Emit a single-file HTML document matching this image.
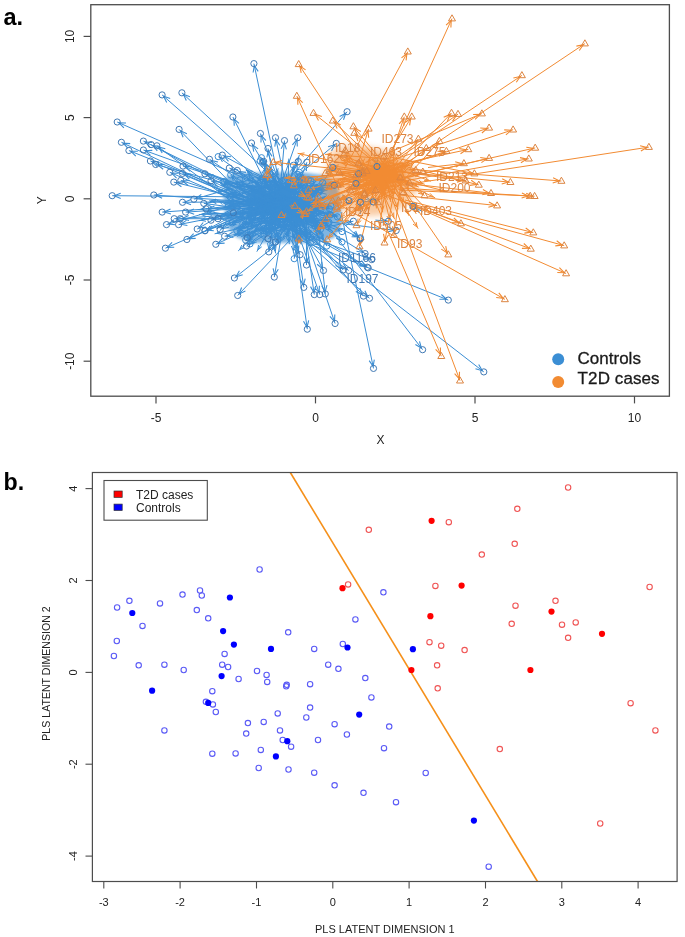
<!DOCTYPE html>
<html><head><meta charset="utf-8"><style>
html,body{margin:0;padding:0;background:#fff;}
svg{display:block;filter:blur(0.35px);font-family:"Liberation Sans",sans-serif;}
</style></head><body>
<svg width="685" height="937" viewBox="0 0 685 937">
<rect width="685" height="937" fill="#fff"/>
<clipPath id="ca"><rect x="91" y="5" width="578" height="391"/></clipPath>
<g clip-path="url(#ca)">
<filter id="bl" x="-20%" y="-20%" width="140%" height="140%"><feGaussianBlur stdDeviation="3"/></filter>
<filter id="bl2" x="-20%" y="-20%" width="140%" height="140%"><feGaussianBlur stdDeviation="1.8"/></filter>
<path d="M226 177L236 173L300 172L322 175L336 182L341 200L341 226L334 238L315 243L252 243L236 237L226 226L223 190Z" fill="#3b8ed4" opacity="0.65" filter="url(#bl2)"/>
<path d="M280.9 211.6L314.6 217.9M281.3 208.8L227.2 202.5M291.3 208.0L315.6 181.4M288.8 221.2L250.5 197.6M289.9 205.5L274.6 217.8M295.1 212.4L296.8 230.9M275.1 197.9L246.1 219.3M272.5 210.2L273.8 193.4M291.8 189.6L287.3 208.7M303.3 193.4L269.8 224.5M295.7 216.4L297.8 225.0M255.7 196.1L300.9 213.4M269.5 200.2L313.1 199.3M282.1 202.7L218.2 156.6M290.7 197.9L297.9 174.5M275.6 207.6L229.6 225.2M293.3 212.0L273.3 210.4M307.0 192.4L273.1 227.4M264.0 223.7L290.6 217.1M286.3 214.0L289.0 190.9M301.7 206.3L286.4 237.8M278.0 193.7L298.7 176.7M307.5 194.7L288.5 187.9M279.0 209.0L246.4 184.0M282.2 209.1L239.9 179.9M282.6 207.9L265.3 199.5M284.8 216.2L236.8 230.7M302.9 205.5L261.4 191.0M289.5 200.3L329.5 208.9M297.1 217.0L282.1 239.5M301.1 193.1L264.1 184.4M287.7 192.6L268.1 219.5M302.5 176.5L299.4 172.3M284.3 198.1L262.8 175.0M297.8 207.6L300.6 238.0M249.4 214.4L308.3 201.7M287.1 213.8L245.9 215.4M309.8 193.6L296.1 227.4M305.3 214.2L289.7 174.4M275.1 206.9L250.5 238.2M300.8 204.0L329.0 222.3M289.0 211.0L324.3 227.8M303.2 222.4L262.6 191.5M276.9 204.2L331.7 217.2M248.3 201.7L320.6 229.2M288.0 214.1L249.9 212.9M284.0 217.4L324.9 197.1M264.6 209.8L216.2 228.4M265.3 205.9L225.1 202.9M285.6 206.9L296.0 227.0M281.8 192.1L281.1 210.8M286.6 200.9L250.8 191.8M287.7 193.0L308.1 235.0M264.4 211.3L280.4 220.1M266.1 210.0L328.4 220.5M312.3 187.6L285.7 237.1M289.7 201.0L272.5 177.9M285.4 210.3L293.4 165.3M299.3 220.4L320.3 239.4M296.0 204.4L249.3 220.8M315.2 204.7L271.3 208.1M279.4 212.2L303.9 174.3M268.7 202.1L260.1 215.4M279.2 205.7L299.4 155.1M294.9 211.3L310.2 191.4M296.5 214.4L289.4 193.0M306.2 225.9L301.4 179.1M307.8 211.9L294.1 227.5M312.3 216.9L319.6 203.9M274.2 217.8L277.1 217.5M273.4 204.6L245.6 194.2M275.8 223.5L279.0 185.1M283.2 207.7L284.7 185.9M248.1 210.1L314.7 202.4M254.7 206.7L279.7 219.8M299.6 204.9L266.8 179.6M272.8 211.7L306.0 190.4M288.5 210.0L311.8 185.3M282.6 214.0L274.5 183.7M273.2 208.9L318.7 202.7M286.4 234.5L265.7 205.3M274.3 205.9L233.1 200.2M288.3 206.6L249.1 212.8M258.8 202.7L265.1 166.8M274.1 212.3L309.3 232.9M282.0 203.4L314.0 189.4M282.0 186.0L281.7 207.3M299.7 188.9L220.6 185.7M274.9 190.6L263.4 180.1M295.5 193.9L293.1 219.3M283.7 206.1L278.6 183.4M262.1 202.5L305.5 190.1M296.2 209.9L293.6 238.5M303.5 204.1L276.6 219.5M287.4 190.8L231.7 183.0M284.3 224.1L286.6 173.8M296.8 209.2L261.9 178.9M280.1 218.8L275.2 181.1M293.4 201.5L284.5 205.5M256.4 211.2L255.0 211.9M294.6 231.7L288.1 182.6M245.9 201.9L314.9 207.6M303.9 194.8L323.5 206.1M286.3 206.1L273.5 193.5M294.3 213.8L307.1 230.1M311.6 223.2L300.6 197.4M273.9 213.9L253.4 196.9M273.5 209.9L234.4 229.8M276.7 231.1L252.8 207.7M290.7 215.9L322.7 182.7M260.9 188.2L230.4 197.3M309.7 211.5L307.3 216.8M283.9 209.4L304.2 223.2M277.5 213.7L303.6 204.7M277.5 198.3L267.2 184.4M290.8 212.4L256.4 207.3M329.7 185.5L238.6 186.1M297.3 211.4L249.8 190.6M254.7 196.3L250.8 217.8M269.6 204.4L230.0 191.9M293.1 204.8L293.5 231.7M287.7 214.5L267.8 203.3M314.8 199.9L287.1 207.7M276.4 183.4L266.9 236.0M299.4 186.8L279.1 216.6M296.0 217.0L326.8 195.5M268.6 191.0L284.8 175.7M287.3 198.2L262.4 193.5M293.5 212.0L301.2 180.6M302.6 211.7L266.5 188.2M283.1 205.1L274.6 238.2M264.6 188.0L249.3 189.8M309.2 201.8L225.4 206.9M277.4 195.8L297.7 235.9M285.6 208.9L270.1 219.4M294.2 224.6L257.3 206.6M298.6 204.2L281.7 221.0M285.9 196.8L258.4 207.3M287.8 217.3L296.1 203.4M276.3 210.7L285.6 212.1M299.9 210.1L317.7 185.3M322.1 205.6L243.8 236.6M284.9 203.2L256.6 220.4M280.2 211.8L254.3 196.9M292.9 204.4L286.9 225.1M297.9 187.6L228.5 205.2M260.0 223.7L263.8 234.0M301.2 208.1L280.0 201.3M290.6 206.9L276.7 240.1M296.7 200.0L330.3 215.0M283.1 223.4L307.6 235.3M259.5 186.3L249.2 205.3M323.2 198.7L251.1 202.2M248.3 207.0L312.9 223.2M297.2 189.0L259.7 194.7M266.9 220.7L245.1 224.2M285.1 210.0L284.9 195.2M317.9 203.2L277.7 215.3M300.5 213.4L256.9 211.8M265.7 213.6L278.2 168.3M280.8 201.2L267.8 231.9M266.7 218.9L250.7 189.7M304.0 224.8L259.5 199.9M304.0 205.4L313.5 217.4M292.4 205.7L314.7 230.2M288.9 204.4L236.4 185.9M305.9 203.5L234.4 235.8M273.2 208.7L293.3 203.8M266.7 197.3L264.3 182.6M288.5 214.1L296.0 186.8M299.2 206.7L290.0 222.9M293.2 224.8L267.3 210.4M280.5 202.3L300.9 200.9M282.2 215.2L263.2 230.9M274.6 214.9L309.4 206.6M293.4 222.8L270.5 228.8M257.5 218.7L284.8 216.6M290.8 203.4L264.5 207.3M292.9 213.1L277.9 227.7M295.4 204.5L277.1 176.6M299.2 201.1L235.6 181.4M300.0 222.3L268.3 230.6M289.9 199.9L267.8 208.2M278.9 209.8L304.2 234.0M304.9 209.6L338.3 216.1M301.0 216.0L293.2 193.8M266.5 213.0L296.8 203.4M281.8 206.9L277.8 189.0M287.4 186.9L243.1 205.2M291.6 209.6L233.3 203.1M280.4 205.8L232.2 222.9M288.3 193.0L279.4 198.7M293.2 204.2L330.9 206.2M289.2 199.4L198.9 209.6M293.3 202.7L289.7 203.9M269.1 220.9L323.4 191.7M288.6 200.4L326.0 187.2M283.5 219.0L241.1 236.7M270.5 184.9L310.9 180.8M262.7 203.0L320.8 210.8M256.0 195.0L334.2 215.8M262.5 218.1L333.9 212.3M267.6 220.4L242.8 223.6M313.3 212.1L294.6 239.9M264.7 197.7L239.7 214.9M267.5 211.4L294.5 217.6M283.1 204.1L262.8 180.2M277.9 212.1L289.0 186.9M272.1 197.2L327.9 189.6M289.2 210.0L320.6 226.2M274.8 211.0L295.2 211.2M271.4 218.8L328.0 222.9M285.3 229.8L282.5 200.6M285.4 209.8L319.4 209.0M293.3 203.8L291.1 207.5M266.5 190.3L257.7 193.4M317.0 212.9L278.2 204.8M299.8 190.9L306.1 203.8M286.1 211.1L227.3 195.8M284.9 189.0L273.0 191.7M268.8 202.1L254.1 204.7M259.0 183.8L252.2 189.1M283.5 179.6L248.4 243.5M279.4 213.2L245.5 184.5M262.4 179.7L317.0 220.4M295.7 196.8L254.2 199.7M290.3 220.9L325.0 182.8M292.5 206.9L269.1 216.2M289.6 206.6L246.0 184.0M284.5 202.0L263.7 228.6M299.3 185.0L320.2 235.2M292.2 204.2L317.9 228.2M265.1 190.7L255.2 179.8M307.0 216.7L258.7 201.8M297.2 207.1L303.2 198.0M267.2 231.6L318.4 215.0M301.2 208.2L309.6 196.6M279.4 192.9L319.6 179.2M289.2 199.9L245.6 224.8M286.5 205.9L278.0 227.2M292.5 217.8L316.2 190.7M297.3 202.9L301.3 206.9M302.5 216.0L311.2 220.4M290.2 190.9L267.9 199.8M290.2 203.0L300.5 209.1M282.1 229.6L265.5 233.1M286.8 218.2L307.5 224.2M276.0 197.9L240.4 230.3M271.2 190.6L272.1 225.6M277.7 203.3L322.1 189.2M289.9 214.7L289.3 197.4M291.7 212.9L281.5 183.9M280.1 212.3L277.0 197.8M292.2 204.8L305.1 202.6M292.6 220.8L246.1 199.4M300.8 208.3L265.9 184.9M273.0 196.9L290.6 200.5M283.0 182.0L287.3 223.9M274.9 209.8L319.3 183.4M275.3 185.5L256.8 189.9M276.3 220.3L270.0 226.2M279.8 190.9L270.4 204.0M273.1 198.2L297.4 201.6M269.3 190.2L277.9 239.3M304.5 209.3L310.6 237.0M277.7 205.4L283.6 221.8M262.2 204.8L246.4 204.2M295.4 203.6L236.6 228.2M318.2 228.1L229.3 191.7M282.9 207.1L270.1 220.5M277.5 212.9L306.0 236.9M273.9 204.7L261.8 215.7M304.1 219.8L255.1 190.2M274.4 203.0L251.4 229.8M297.3 187.6L256.0 210.3M306.4 220.7L318.3 191.2M276.3 211.9L303.8 192.1M285.4 215.3L271.0 216.3M276.8 197.2L285.7 201.6M301.4 184.9L317.4 236.1M283.1 204.6L329.6 217.6M285.0 211.1L249.2 225.8M279.8 211.2L284.0 195.3M302.0 196.5L245.8 170.1M292.2 185.6L300.6 209.1M284.1 194.2L255.4 201.7M285.9 212.0L229.5 204.8M296.5 216.1L283.4 231.7M315.6 206.9L286.0 218.2M293.4 197.0L294.3 216.3M306.6 208.7L305.0 199.5M304.0 204.5L303.4 215.5M268.2 224.6L276.1 208.7M286.4 198.5L270.3 210.7M291.2 197.9L247.8 220.5M282.4 219.0L247.0 177.7M278.2 214.4L288.7 216.2M286.0 202.9L309.2 190.5M297.9 208.9L244.3 235.7M266.8 195.8L316.1 192.2M268.3 195.7L239.2 189.8M290.5 221.9L308.4 179.9M286.8 208.7L319.1 192.0M264.8 221.0L256.1 201.1M279.6 216.9L271.2 216.6M289.9 204.5L313.8 212.1M300.2 200.1L266.4 213.3M326.6 194.2L269.2 179.9M278.2 200.0L299.6 181.3M291.7 205.0L283.2 209.7M282.7 198.0L282.9 212.9M288.8 188.8L277.3 198.7M267.6 193.5L327.4 190.3M309.8 202.1L224.6 217.2M287.7 201.9L304.7 184.3M296.9 196.3L264.2 212.1M262.7 212.2L312.3 197.7M271.2 193.8L266.2 226.5M311.4 199.5L255.7 177.1M309.6 203.2L257.5 230.7M314.9 203.1L257.6 202.1M296.9 199.1L224.4 181.6M289.6 197.6L252.5 201.7M259.8 195.5L337.4 216.9M297.2 185.5L253.7 230.9M293.5 190.3L271.3 213.9M258.0 199.5L307.0 236.4M287.2 221.0L257.7 209.9M284.2 224.3L265.7 209.1M294.6 188.3L287.9 234.0M276.2 202.2L209.2 200.8M280.4 196.0L301.2 244.4M276.0 205.3L216.0 189.8M266.1 191.7L236.3 234.6M274.1 217.0L319.9 246.0M283.0 225.1L206.5 211.0M288.2 185.8L205.1 230.7M288.1 212.6L277.5 244.6M254.7 198.2L330.3 226.0M289.9 203.9L199.1 220.7M314.5 225.0L223.2 181.8M259.6 184.7L275.7 253.4M276.1 208.1L246.0 168.9M284.5 216.2L289.4 244.1M290.4 205.7L260.2 160.8M307.3 199.9L326.7 246.1M285.4 200.8L256.8 251.7M298.0 214.9L250.0 243.9M300.0 219.0L310.4 242.7M320.7 211.7L266.1 167.6M307.4 188.9L294.2 258.7M315.2 220.5L323.5 241.2M269.1 223.3L230.7 174.9M292.1 212.1L205.3 213.7M304.9 223.6L262.6 162.0M292.1 213.3L271.9 250.6M271.0 206.5L247.4 241.3M316.8 214.2L342.0 242.0M272.0 207.3L247.8 171.7M252.7 231.4L275.9 247.3M289.4 203.7L332.6 231.1M287.9 205.7L269.3 165.6M315.2 206.3L245.7 240.1M252.6 215.6L217.0 200.3M291.5 211.3L293.4 252.6M287.1 210.2L288.8 158.6M272.2 206.2L342.0 231.6M277.3 186.6L299.2 252.4M308.8 213.2L224.1 186.9M312.4 212.8L214.6 233.8M297.3 196.4L238.2 250.9M284.0 213.0L199.1 214.5M270.2 216.7L237.2 236.4M276.9 205.5L209.9 201.5M294.3 198.8L261.5 157.7M308.4 214.8L312.6 217.5L307.7 218.5M233.6 205.1L229.2 202.7L234.0 201.4M309.8 185.1L314.3 182.9L312.5 187.6M255.2 202.7L252.2 198.7L257.2 199.5M280.9 215.1L276.2 216.6L278.6 212.2M298.1 224.2L296.6 228.9L294.4 224.5M252.5 216.8L247.7 218.1L250.3 213.8M271.4 199.9L273.6 195.4L275.1 200.1M290.7 202.7L287.8 206.8L287.0 201.8M276.0 221.3L271.3 223.1L273.4 218.6M298.1 218.1L297.4 223.0L294.4 219.0M295.4 209.3L299.0 212.7L294.0 212.8M306.4 197.5L311.1 199.3L306.5 201.3M222.5 162.0L219.8 157.8L224.7 159.0M294.2 180.3L297.3 176.4L297.7 181.4M236.5 224.6L231.5 224.5L235.1 221.1M279.8 212.8L275.3 210.5L280.1 209.0M279.1 223.9L274.5 226.0L276.4 221.3M283.7 216.9L288.7 217.6L284.6 220.5M286.4 197.2L288.8 192.9L290.1 197.7M291.0 232.7L287.3 236.0L287.6 231.0M292.4 179.4L297.2 177.9L294.8 182.3M294.1 191.9L290.3 188.6L295.3 188.4M250.5 189.6L248.0 185.3L252.8 186.6M244.3 185.2L241.6 181.0L246.5 182.1M270.5 204.1L267.1 200.4L272.1 200.7M243.7 230.6L238.7 230.1L242.6 227.0M267.0 195.0L263.3 191.7L268.3 191.4M323.4 205.7L327.6 208.5L322.6 209.3M287.4 235.0L283.3 237.9L284.3 233.0M270.1 187.7L266.0 184.8L271.0 184.1M273.5 215.2L269.3 217.8L270.5 213.0M301.8 178.8L300.6 173.9L304.8 176.6M266.0 181.1L264.2 176.4L268.7 178.6M301.8 231.3L300.4 236.1L298.1 231.6M301.4 201.3L306.3 202.1L302.2 204.9M252.6 217.0L247.9 215.4L252.4 213.3M300.4 221.9L296.9 225.5L296.9 220.5M290.4 181.2L290.5 176.2L293.9 179.9M256.1 234.1L251.7 236.6L253.1 231.8M324.5 217.1L327.4 221.2L322.5 220.3M319.2 223.3L322.5 227.0L317.5 226.7M266.8 197.0L264.2 192.7L269.1 194.0M325.7 213.8L329.8 216.7L324.9 217.5M315.1 225.1L318.8 228.5L313.8 228.6M256.5 215.0L251.9 212.9L256.6 211.2M318.1 198.3L323.1 197.9L319.8 201.7M223.1 227.7L218.1 227.7L221.7 224.2M231.6 205.3L227.1 203.1L231.8 201.5M294.6 220.3L295.1 225.2L291.3 222.0M283.2 204.2L281.1 208.8L279.5 204.1M256.8 195.3L252.8 192.3L257.7 191.6M306.9 228.3L307.2 233.3L303.5 229.9M275.5 215.3L278.6 219.1L273.6 218.5M322.2 217.6L326.5 220.2L321.6 221.3M290.5 232.2L286.6 235.4L287.2 230.4M275.0 184.4L273.7 179.5L278.0 182.1M290.4 171.5L293.1 167.3L294.1 172.2M316.6 233.6L318.8 238.1L314.1 236.3M256.2 220.4L251.2 220.1L255.0 216.8M278.1 209.4L273.3 207.9L277.8 205.7M298.7 178.9L302.8 176.0L301.8 180.9M265.3 210.9L261.2 213.7L262.1 208.8M295.2 160.6L298.7 157.0L298.7 162.0M304.7 195.5L309.0 193.0L307.7 197.8M289.7 199.8L290.0 194.9L293.3 198.7M300.3 185.9L301.6 181.1L304.0 185.5M299.9 223.8L295.4 226.0L297.1 221.3M314.7 208.7L318.6 205.6L318.0 210.6M270.3 216.4L275.1 217.7L270.8 220.2M251.2 198.3L247.5 194.9L252.5 194.8M276.6 191.6L278.8 187.1L280.3 191.9M282.4 192.4L284.6 187.9L286.1 192.6M307.9 201.3L312.7 202.6L308.3 205.0M274.7 215.0L278.0 218.8L273.0 218.4M270.9 185.1L268.4 180.8L273.2 182.2M299.4 192.4L304.3 191.5L301.4 195.5M305.8 188.9L310.4 186.8L308.6 191.5M274.4 190.6L275.0 185.6L278.0 189.6M311.9 201.7L316.7 203.0L312.4 205.4M268.0 211.8L266.9 206.9L271.1 209.6M239.4 202.9L235.0 200.4L239.9 199.2M255.9 213.6L251.1 212.5L255.3 209.9M262.1 173.0L264.7 168.8L265.8 173.7M304.5 227.9L307.6 231.9L302.7 231.2M307.2 190.3L312.2 190.2L308.7 193.7M283.7 200.7L281.7 205.3L279.9 200.6M227.1 187.8L222.6 185.8L227.3 184.1M267.1 186.0L264.9 181.5L269.6 183.2M295.6 212.9L293.3 217.3L291.9 212.5M278.2 190.2L279.0 185.3L281.9 189.4M298.6 190.2L303.6 190.7L299.6 193.8M296.1 232.1L293.8 236.5L292.3 231.7M283.3 217.8L278.4 218.5L281.5 214.6M238.0 185.8L233.7 183.3L238.5 182.1M284.4 180.4L286.5 175.8L288.2 180.6M265.7 184.7L263.4 180.3L268.2 181.9M274.2 187.9L275.5 183.0L277.9 187.4M291.3 204.5L286.4 204.7L289.8 201.1M261.7 210.5L256.7 211.0L259.9 207.2M287.1 189.5L288.4 184.6L290.9 189.0M308.4 205.2L312.9 207.4L308.1 208.9M318.7 201.1L321.8 205.1L316.9 204.4M276.9 199.5L274.9 194.9L279.5 196.8M304.5 223.7L305.8 228.5L301.5 226.0M301.5 204.2L301.4 199.2L304.9 202.8M257.3 202.6L254.9 198.2L259.7 199.7M241.2 228.4L236.2 228.8L239.5 225.1M256.2 213.7L254.2 209.1L258.8 211.0M316.7 186.2L321.3 184.1L319.4 188.8M237.3 197.2L232.3 196.7L236.2 193.6M311.7 211.6L308.1 215.0L308.3 210.0M299.8 217.9L302.6 222.1L297.7 221.0M296.7 205.1L301.7 205.3L297.9 208.6M269.6 190.8L268.4 186.0L272.6 188.6M262.7 210.1L258.4 207.6L263.3 206.4M245.3 187.9L240.6 186.1L245.3 184.2M255.1 194.9L251.6 191.4L256.6 191.5M253.8 211.6L251.1 215.8L250.1 210.9M235.7 195.7L231.9 192.5L236.8 192.1M295.3 225.0L293.5 229.7L291.5 225.1M272.6 208.2L269.5 204.3L274.5 204.9M294.0 207.7L289.0 207.2L293.0 204.1M269.9 229.8L267.2 234.1L266.2 229.2M284.4 212.2L280.3 215.0L281.3 210.1M320.3 197.8L325.1 196.6L322.4 200.8M278.7 178.9L283.3 177.1L281.3 181.6M268.6 196.6L264.3 193.9L269.2 192.9M297.8 186.6L300.8 182.6L301.5 187.5M271.0 193.4L268.1 189.3L273.0 190.3M278.1 232.2L275.1 236.3L274.4 231.3M256.1 190.9L251.3 189.6L255.7 187.2M232.2 208.4L227.4 206.8L232.0 204.6M296.4 229.1L296.8 234.1L293.1 230.8M276.6 217.2L271.8 218.3L274.5 214.1M262.5 211.2L259.1 207.5L264.1 207.8M287.7 217.7L283.1 219.6L285.1 215.0M265.3 206.7L260.3 206.6L263.9 203.2M291.1 208.2L295.0 205.2L294.3 210.1M279.3 209.3L283.6 211.8L278.7 213.0M312.3 189.6L316.5 186.9L315.3 191.8M250.6 235.9L245.6 235.9L249.3 232.5M263.3 218.5L258.3 219.3L261.3 215.3M259.1 201.8L256.1 197.9L261.0 198.6M290.6 219.3L287.5 223.2L287.0 218.2M235.4 205.4L230.5 204.7L234.5 201.7M263.2 227.1L263.1 232.1L259.7 228.4M285.7 205.1L281.9 201.9L286.9 201.5M281.0 234.7L277.4 238.3L277.5 233.3M325.0 210.5L328.4 214.1L323.4 214.0M302.5 230.7L305.8 234.4L300.8 234.1M254.0 200.4L250.1 203.6L250.7 198.6M257.8 203.8L253.1 202.1L257.7 200.0M306.9 219.8L310.9 222.7L306.0 223.4M266.6 195.6L261.7 194.4L266.0 191.9M251.9 225.0L247.1 223.9L251.3 221.3M283.1 201.8L284.9 197.2L286.9 201.8M284.6 215.2L279.7 214.8L283.6 211.6M263.5 213.9L258.9 211.9L263.6 210.1M274.6 174.2L277.7 170.2L278.3 175.1M272.1 226.5L268.5 230.1L268.6 225.1M252.3 196.4L251.7 191.4L255.5 194.6M264.4 204.8L261.3 200.9L266.3 201.5M310.9 211.1L312.3 215.9L308.0 213.4M311.6 224.0L313.4 228.7L308.9 226.5M242.0 189.9L238.2 186.6L243.2 186.3M241.2 234.8L236.2 235.0L239.7 231.4M286.4 203.6L291.3 204.3L287.2 207.2M263.5 189.5L264.6 184.6L267.2 188.9M292.4 192.7L295.5 188.8L296.0 193.7M294.9 218.1L291.0 221.1L291.6 216.2M272.2 215.3L269.0 211.4L274.0 212.0M294.1 199.5L298.9 201.0L294.4 203.2M269.5 228.1L264.7 229.6L267.1 225.2M302.5 206.3L307.5 207.1L303.4 210.0M277.4 228.9L272.4 228.3L276.4 225.3M278.0 215.2L282.8 216.7L278.3 218.9M271.4 208.2L266.5 207.0L270.8 204.5M284.0 224.4L279.4 226.3L281.4 221.8M279.1 183.2L278.2 178.3L282.3 181.1M241.4 185.2L237.5 182.0L242.5 181.6M275.2 230.7L270.2 230.0L274.3 227.1M274.6 207.6L269.6 207.5L273.3 204.1M300.7 228.1L302.7 232.6L298.1 230.8M332.2 213.0L336.4 215.7L331.5 216.6M293.6 200.7L293.9 195.7L297.2 199.5M289.9 203.6L294.9 204.0L291.0 207.2M277.4 195.9L278.3 191.0L281.1 195.1M250.0 204.4L245.0 204.4L248.5 200.9M239.7 205.7L235.3 203.3L240.1 201.9M239.1 222.4L234.1 222.2L237.8 218.9M286.0 196.7L281.1 197.6L284.0 193.5M324.4 204.0L328.9 206.1L324.2 207.7M205.7 210.7L200.9 209.3L205.3 207.0M296.6 203.6L291.6 203.3L295.4 200.0M316.7 193.2L321.7 192.6L318.5 196.5M319.1 187.6L324.1 187.8L320.4 191.1M247.9 235.9L242.9 235.9L246.5 232.4M304.1 179.6L308.9 181.0L304.5 183.3M314.4 208.0L318.8 210.5L313.9 211.7M328.3 212.3L332.3 215.3L327.3 215.9M327.2 210.9L331.9 212.4L327.5 214.7M249.6 224.6L244.8 223.3L249.1 220.9M299.8 235.4L295.7 238.3L296.7 233.4M246.3 212.7L241.4 213.8L244.1 209.6M288.5 214.3L292.6 217.1L287.6 217.9M265.6 186.5L264.1 181.8L268.5 184.1M284.6 192.2L288.2 188.7L288.0 193.7M321.1 188.6L325.9 189.8L321.6 192.3M315.5 221.5L318.8 225.3L313.8 224.8M288.6 209.3L293.2 211.2L288.6 213.0M321.5 220.5L326.0 222.7L321.2 224.3M281.3 207.4L282.7 202.6L285.0 207.0M312.7 207.3L317.4 209.0L312.8 211.0M296.1 202.7L292.1 205.7L292.8 200.8M264.5 193.0L259.5 192.8L263.3 189.5M284.3 208.0L280.2 205.2L285.1 204.3M304.8 197.0L305.2 202.0L301.5 198.6M233.3 199.3L229.3 196.3L234.2 195.7M279.9 192.1L275.0 191.3L279.1 188.4M261.0 205.4L256.1 204.4L260.3 201.7M258.6 186.5L253.7 187.8L256.3 183.5M253.2 238.6L249.3 241.7L249.9 236.8M249.4 190.2L247.0 185.8L251.8 187.4M312.9 215.0L315.4 219.2L310.6 218.0M260.9 201.1L256.2 199.5L260.7 197.3M319.2 186.5L323.7 184.3L321.9 189.0M275.9 215.5L270.9 215.4L274.5 212.0M251.1 188.7L247.8 184.9L252.8 185.4M269.3 224.5L264.9 227.0L266.3 222.2M319.4 228.3L319.4 233.3L315.9 229.8M314.4 222.3L316.5 226.9L311.8 225.1M258.3 186.0L256.5 181.3L261.0 183.4M264.5 205.6L260.7 202.4L265.6 202.0M298.0 202.6L302.1 199.7L301.1 204.6M311.5 215.3L316.5 215.7L312.6 218.9M304.2 200.9L308.4 198.2L307.2 203.1M312.7 179.6L317.7 179.8L313.9 183.1M252.3 223.2L247.4 223.8L250.5 219.9M282.2 221.7L278.8 225.3L278.7 220.3M310.4 194.5L314.8 192.2L313.2 196.9M297.9 200.9L299.9 205.5L295.3 203.6M306.2 215.7L309.5 219.5L304.5 219.1M274.8 199.1L269.8 199.1L273.4 195.6M295.7 204.1L298.8 208.1L293.8 207.3M272.4 233.6L267.4 232.7L271.6 229.9M301.7 220.5L305.6 223.6L300.6 224.1M246.6 227.2L241.9 229.0L244.0 224.5M273.8 218.9L272.1 223.6L270.1 219.0M315.2 189.4L320.2 189.8L316.4 193.0M287.6 204.1L289.4 199.4L291.4 203.9M281.9 190.8L282.2 185.8L285.5 189.6M276.6 204.7L277.4 199.8L280.2 203.9M298.3 201.9L303.2 202.9L298.9 205.5M251.4 203.9L247.9 200.2L252.9 200.5M270.3 190.2L267.5 186.0L272.4 187.1M284.5 197.4L288.7 200.1L283.7 201.0M288.5 217.1L287.1 221.9L284.7 217.5M312.6 185.2L317.5 184.4L314.5 188.4M263.7 190.2L258.8 189.5L262.9 186.6M276.1 223.0L271.5 224.8L273.6 220.3M275.8 199.7L271.6 202.3L272.8 197.5M291.1 198.8L295.4 201.3L290.6 202.5M278.6 232.4L277.5 237.3L274.9 233.1M311.0 230.1L310.1 235.0L307.3 230.9M283.1 214.9L282.9 219.9L279.6 216.2M253.0 206.3L248.4 204.3L253.1 202.6M243.5 227.4L238.5 227.4L242.0 223.9M234.8 195.9L231.2 192.4L236.2 192.4M276.0 217.0L271.5 219.0L273.3 214.4M302.2 231.2L304.5 235.6L299.8 234.1M268.0 212.6L263.3 214.3L265.5 209.8M259.8 195.2L256.8 191.2L261.7 192.0M257.2 225.9L252.7 228.2L254.3 223.5M262.7 208.7L257.7 209.3L260.9 205.5M314.1 196.6L317.5 193.0L317.5 198.0M297.4 194.5L302.2 193.3L299.5 197.5M277.7 217.7L273.0 216.2L277.5 214.0M280.6 197.0L283.9 200.7L278.9 200.3M317.2 229.2L316.8 234.2L313.6 230.4M323.7 214.0L327.7 217.1L322.7 217.6M256.0 225.0L251.0 225.0L254.6 221.5M280.5 201.2L283.5 197.2L284.1 202.2M251.0 174.6L247.6 170.9L252.6 171.2M300.1 202.2L299.9 207.2L296.6 203.5M262.3 201.8L257.3 201.2L261.4 198.2M235.9 207.5L231.5 205.0L236.4 203.7M289.1 227.8L284.7 230.1L286.2 225.4M292.9 217.6L287.9 217.5L291.5 214.1M295.9 209.5L294.2 214.3L292.1 209.7M304.3 206.4L305.4 201.5L308.0 205.8M305.6 209.0L303.5 213.5L301.9 208.8M271.5 213.8L275.2 210.5L274.8 215.5M276.7 208.2L271.9 209.5L274.5 205.2M254.6 219.1L249.6 219.5L252.9 215.7M249.9 184.0L248.3 179.3L252.7 181.6M282.5 213.2L286.7 215.8L281.8 216.9M302.5 191.9L307.5 191.4L304.3 195.2M251.0 234.4L246.1 234.8L249.4 231.0M309.4 190.8L314.1 192.4L309.7 194.6M245.4 192.9L241.2 190.2L246.1 189.3M304.1 185.3L307.6 181.7L307.5 186.7M312.3 193.4L317.3 192.9L314.1 196.7M257.1 208.0L256.9 203.0L260.5 206.5M277.8 218.7L273.2 216.7L277.9 215.0M308.0 208.3L311.9 211.5L306.9 211.9M273.2 212.6L268.2 212.5L271.9 209.1M275.2 183.4L271.1 180.4L276.1 179.7M293.4 184.2L298.1 182.6L295.8 187.1M289.9 208.2L284.9 208.8L288.1 204.9M284.7 206.3L282.9 210.9L281.0 206.3M283.6 195.8L278.8 197.4L281.1 192.9M320.7 188.8L325.4 190.4L320.9 192.5M231.5 217.9L226.6 216.9L230.9 214.2M298.7 187.8L303.3 185.7L301.4 190.4M271.0 210.9L266.0 211.2L269.3 207.5M305.4 197.8L310.4 198.3L306.5 201.4M269.0 220.2L266.5 224.5L265.3 219.6M261.2 181.3L257.6 177.9L262.6 177.9M264.2 229.3L259.2 229.8L262.5 226.0M264.2 204.1L259.6 202.2L264.2 200.4M230.4 185.0L226.3 182.1L231.2 181.3M259.3 202.9L254.4 201.5L258.8 199.1M331.5 213.4L335.5 216.4L330.5 217.0M259.6 227.4L255.1 229.4L256.9 224.8M277.2 210.4L272.7 212.5L274.5 207.8M302.8 230.9L305.4 235.2L300.6 233.9M263.3 214.0L259.6 210.6L264.6 210.5M269.7 214.8L267.3 210.4L272.0 211.9M290.7 227.7L288.2 232.0L287.0 227.2M215.8 202.9L211.2 200.9L215.9 199.1M300.3 237.6L300.4 242.6L296.9 239.1M222.0 193.3L218.0 190.3L222.9 189.6M241.6 230.2L237.4 232.9L238.5 228.1M315.3 240.9L318.2 244.9L313.3 244.0M212.7 214.0L208.4 211.4L213.3 210.3M211.8 229.2L206.8 229.7L210.0 225.9M281.4 238.9L278.1 242.7L277.8 237.7M324.7 221.9L328.4 225.3L323.4 225.5M206.0 221.3L201.1 220.3L205.3 217.6M228.4 186.3L225.0 182.6L230.0 182.9M276.0 246.5L275.3 251.4L272.4 247.3M248.6 175.3L247.2 170.5L251.5 173.0M290.1 237.2L289.1 242.1L286.4 237.8M262.3 167.3L261.3 162.4L265.5 165.2M325.9 239.3L325.9 244.3L322.4 240.7M261.7 246.8L257.8 249.9L258.5 245.0M256.7 242.1L251.7 242.9L254.7 238.9M309.5 235.9L309.6 240.9L306.1 237.4M270.1 173.2L267.7 168.9L272.4 170.3M297.2 252.5L294.5 256.7L293.6 251.8M322.8 234.3L322.7 239.3L319.3 235.7M233.3 181.2L231.9 176.4L236.3 178.9M212.0 215.4L207.3 213.6L211.9 211.7M264.8 168.5L263.8 163.6L267.9 166.4M276.7 245.7L272.9 248.9L273.4 243.9M252.7 236.9L248.5 239.7L249.6 234.8M338.9 235.9L340.6 240.5L336.1 238.4M250.0 178.2L248.9 173.4L253.1 176.1M271.5 242.0L274.3 246.2L269.4 245.1M328.0 225.9L330.9 230.0L326.0 229.1M270.4 172.4L270.2 167.4L273.8 170.8M252.5 238.9L247.5 239.2L250.8 235.5M222.4 204.7L218.9 201.1L223.9 201.2M295.0 245.9L293.3 250.6L291.3 246.0M286.7 165.1L288.7 160.6L290.5 165.2M336.4 227.6L340.1 230.9L335.1 231.1M298.9 245.5L298.5 250.5L295.3 246.7M229.9 190.7L226.0 187.5L231.0 187.1M221.5 234.2L216.6 233.3L220.7 230.5M244.3 247.8L239.7 249.5L241.8 245.0M205.8 216.3L201.1 214.5L205.7 212.6M243.9 234.6L238.9 235.4L241.9 231.4M216.4 203.7L211.9 201.6L216.6 200.0M264.2 164.0L262.7 159.2L267.1 161.7" fill="none" stroke="#3b8ed4" stroke-width="1"/>
<path d="M303.8 219.4L162.1 94.9M309.0 210.6L181.9 92.8M289.3 198.0L117.2 122.0M244.5 197.6L179.1 129.4M272.0 195.5L232.9 117.0M283.0 200.0L253.9 63.6M274.7 214.8L121.4 142.3M289.1 215.0L128.9 150.5M301.4 219.0L143.4 141.1M279.3 198.9L143.4 150.0M286.0 219.2L151.1 144.6M249.7 214.7L156.9 145.8M277.0 213.5L150.4 161.0M291.6 202.0L155.7 164.5M271.7 202.2L209.5 159.3M293.1 193.3L222.3 155.1M285.6 199.3L251.5 143.0M274.2 193.1L229.3 168.0M258.5 210.5L169.8 172.3M288.9 201.3L183.0 166.1M281.3 216.1L182.5 173.4M286.5 209.7L173.8 182.1M283.0 213.2L180.8 180.4M279.8 194.6L237.3 170.5M295.7 212.4L204.9 173.8M270.1 208.0L211.0 180.8M255.0 197.0L112.2 195.7M334.7 208.3L153.8 195.0M285.0 201.4L182.5 202.3M275.8 175.8L193.9 199.2M277.9 203.9L162.2 212.1M268.0 206.8L185.6 212.1M292.4 218.8L174.2 218.7M320.9 207.3L180.3 218.7M271.2 193.8L166.5 224.6M306.4 199.7L178.6 224.6M284.9 214.3L203.8 203.4M287.4 208.0L206.0 208.8M289.7 185.2L211.0 220.2M282.1 212.8L218.0 218.7M265.0 189.8L197.2 229.0M293.7 203.0L204.9 230.7M291.5 185.8L220.2 229.6M284.3 196.2L186.9 239.5M296.9 224.8L224.6 236.2M278.5 215.5L215.8 244.3M270.4 202.7L165.4 248.2M290.8 198.9L233.3 212.8M285.0 238.0L234.4 278.0M290.0 240.0L237.7 295.5M281.0 238.0L274.3 277.1M302.6 201.6L246.5 246.0M275.6 206.0L268.8 251.9M278.5 219.8L300.1 254.7M306.4 214.1L306.5 265.0M293.9 216.2L323.5 270.5M291.8 205.1L303.8 287.4M301.7 208.9L314.3 294.6M294.3 222.4L319.8 294.6M315.7 206.4L325.3 293.9M294.0 235.0L307.3 329.2M305.0 235.0L335.1 323.5M274.9 194.8L363.4 296.1M272.2 210.8L369.5 298.3M341.0 212.0L373.5 368.4M300.9 184.9L360.1 238.8M291.9 213.9L343.2 270.0M265.7 211.0L348.7 270.5M278.9 211.9L367.3 267.2M297.2 211.0L365.1 253.6M243.7 213.2L371.7 259.6M311.9 194.0L275.4 242.0M325.4 201.5L268.1 238.8M263.7 192.3L247.3 237.7M285.0 234.0L448.3 300.1M331.0 230.0L422.6 349.7M275.0 210.0L483.8 371.9M262.1 207.9L368.2 267.9M280.5 215.6L396.2 230.5M287.9 204.3L260.4 133.5M294.0 221.4L275.5 137.7M278.6 207.5L284.5 140.6M276.8 197.0L297.7 137.7M270.5 200.5L347.1 111.7M264.7 203.3L336.3 143.4M278.7 209.3L268.0 148.5M299.2 226.9L263.6 161.3M277.5 204.4L298.3 161.6M292.9 199.6L306.9 162.2M301.3 213.6L332.8 167.4M360.3 214.1L360.4 202.2M365.0 199.0L373.2 201.9M342.4 197.5L349.0 200.7M375.4 220.1L388.4 221.2M422.5 211.6L413.0 206.3M300.4 211.3L360.4 237.8M364.2 174.0L356.0 183.5M279.1 188.0L334.2 185.3M321.8 228.2L353.4 221.2M375.7 159.4L377.0 166.5M363.8 164.3L358.6 173.7" fill="none" stroke="#3b8ed4" stroke-width="1.0"/>
<path d="M166.7 102.5L163.6 96.2L170.2 98.5M186.3 100.5L183.4 94.2L189.9 96.7M123.9 127.8L119.0 122.8L126.0 123.0M183.1 137.3L180.5 130.8L186.9 133.7M234.3 125.8L233.8 118.8L239.0 123.4M253.1 72.5L254.3 65.6L258.2 71.4M128.0 148.3L123.2 143.2L130.2 143.6M135.8 156.1L130.8 151.2L137.8 151.2M149.9 147.2L145.2 142.0L152.2 142.5M150.5 155.3L145.3 150.7L152.3 150.4M157.3 151.0L152.9 145.6L159.8 146.4M162.2 153.0L158.5 147.0L165.3 148.8M157.2 166.7L152.2 161.8L159.2 161.8M163.2 169.3L157.6 165.0L164.6 164.2M215.0 166.3L211.1 160.4L218.0 162.0M228.5 161.4L224.1 156.0L231.0 156.8M253.7 151.6L252.5 144.7L258.1 148.9M235.4 174.4L231.0 169.0L238.0 169.9M176.6 178.1L171.6 173.1L178.6 173.3M190.2 171.3L184.9 166.7L191.9 166.3M189.3 179.2L184.3 174.2L191.3 174.4M181.4 186.7L175.7 182.6L182.7 181.6M188.1 185.5L182.7 181.0L189.7 180.5M243.4 177.0L239.0 171.5L246.0 172.4M211.7 179.5L206.7 174.6L213.7 174.7M217.6 186.7L212.8 181.6L219.8 182.0M120.7 198.4L114.2 195.7L120.7 193.2M162.1 198.2L155.8 195.1L162.5 193.0M191.0 204.8L184.5 202.3L191.0 199.6M202.8 199.4L195.8 198.7L201.3 194.4M170.9 214.1L164.2 212.0L170.5 208.9M194.2 214.2L187.6 212.0L193.9 208.9M182.7 221.3L176.2 218.7L182.7 216.1M189.0 220.6L182.3 218.5L188.6 215.4M175.4 224.7L168.4 224.0L173.9 219.7M187.4 225.5L180.6 224.2L186.4 220.4M211.9 207.1L205.8 203.7L212.6 201.9M214.5 211.3L208.0 208.8L214.5 206.1M219.8 219.1L212.8 219.4L217.7 214.4M226.7 220.5L220.0 218.5L226.2 215.3M205.9 227.0L198.9 228.0L203.2 222.5M213.8 230.7L206.8 230.1L212.2 225.7M228.8 227.4L221.9 228.6L226.1 222.9M195.7 238.4L188.7 238.7L193.6 233.7M233.4 237.5L226.6 235.9L232.6 232.3M224.6 243.1L217.6 243.5L222.4 238.4M174.2 247.2L167.2 247.4L172.1 242.4M242.2 213.4L235.2 212.3L240.9 208.3M242.7 274.8L236.0 276.8L239.4 270.7M245.4 291.1L239.1 294.0L241.6 287.5M278.3 269.2L274.6 275.1L273.1 268.3M254.8 242.8L248.1 244.8L251.5 238.7M272.6 243.9L269.1 249.9L267.5 243.1M297.9 246.1L299.0 253.0L293.4 248.9M309.1 256.5L306.5 263.0L303.9 256.5M321.7 261.8L322.5 268.7L317.1 264.3M305.2 278.6L303.5 285.4L300.0 279.4M315.7 285.8L314.0 292.6L310.5 286.6M319.4 285.7L319.1 292.7L314.5 287.5M327.0 285.2L325.1 291.9L321.8 285.7M308.7 320.4L307.0 327.2L303.5 321.2M334.8 314.6L334.5 321.6L329.9 316.3M359.8 288.0L362.1 294.6L355.8 291.4M364.9 290.7L368.0 297.0L361.4 294.6M374.3 359.6L373.1 366.4L369.2 360.6M355.6 231.1L358.6 237.5L352.1 235.0M339.4 262.0L341.8 268.5L335.5 265.5M343.3 263.4L347.1 269.3L340.3 267.7M361.5 260.5L365.6 266.1L358.7 264.9M359.3 246.9L363.4 252.5L356.5 251.3M364.6 254.2L369.8 258.9L362.8 259.2M282.6 236.8L276.6 240.4L278.5 233.7M276.6 236.4L269.8 237.7L273.8 232.0M252.6 230.6L248.0 235.8L247.7 228.8M441.4 294.5L446.4 299.3L439.4 299.3M419.5 341.4L421.4 348.1L415.4 344.6M478.7 364.6L482.2 370.7L475.5 368.8M362.1 261.4L366.5 266.9L359.5 266.0M388.1 226.8L394.2 230.2L387.4 232.0M261.0 142.4L261.1 135.4L265.9 140.5M274.8 146.6L275.9 139.7L279.9 145.4M281.1 148.8L284.3 142.6L286.4 149.3M292.4 144.8L297.0 139.6L297.3 146.6M339.6 116.4L345.8 113.2L343.5 119.8M328.1 146.8L334.8 144.7L331.5 150.9M266.9 157.3L268.3 150.5L272.1 156.4M265.3 170.0L264.6 163.1L270.0 167.5M292.2 168.1L297.4 163.4L297.0 170.4M301.5 169.2L306.2 164.1L306.4 171.1M325.8 172.9L331.7 169.1L330.2 175.9M357.7 210.7L360.4 204.2L362.9 210.7M366.1 196.6L371.3 201.2L364.3 201.5M342.5 194.6L347.2 199.8L340.2 199.3M380.2 217.9L386.4 221.0L379.7 223.1M419.2 212.7L414.8 207.3L421.7 208.1M353.7 232.0L358.6 237.0L351.6 236.8M363.5 178.8L357.3 182.0L359.6 175.4M325.6 183.1L332.2 185.4L325.8 188.3M344.5 220.5L351.4 221.6L345.7 225.6M378.1 157.7L376.6 164.5L372.9 158.6M365.0 167.5L359.6 171.9L360.4 165.0" fill="none" stroke="#3b8ed4" stroke-width="1.1"/>
<ellipse cx="370" cy="182" rx="48" ry="34" fill="#f28b32" opacity="0.45" filter="url(#bl)"/>
<ellipse cx="384" cy="175" rx="22" ry="17" fill="#f28b32" opacity="0.8" filter="url(#bl)"/>
<ellipse cx="352" cy="158" rx="24" ry="14" fill="#f28b32" opacity="0.35" filter="url(#bl)"/>
<path d="M383.9 168.3L364.1 176.2M401.6 162.5L325.6 184.9M375.0 173.3L447.0 191.5M386.9 179.4L383.4 194.0M386.9 173.4L404.8 203.4M386.6 176.2L330.0 167.1M372.1 173.4L415.6 210.7M385.4 172.9L390.7 201.9M378.7 175.0L387.5 199.6M393.9 182.1L375.6 174.5M372.6 169.9L394.7 219.3M394.3 172.3L310.3 204.2M377.1 173.9L415.7 170.3M382.5 179.4L346.6 204.2M402.1 173.5L414.2 162.9M387.7 173.1L283.9 178.0M392.2 172.9L324.0 198.6M378.7 181.5L394.9 193.9M384.2 175.0L418.2 228.7M389.5 158.8L325.0 154.3M400.0 165.3L408.8 190.8M384.7 185.5L358.1 211.2M397.2 170.5L363.9 210.7M365.8 182.0L357.6 202.3M383.3 172.2L297.6 153.3M378.9 174.5L325.3 189.7M388.8 177.9L382.1 197.5M379.8 178.2L364.6 193.4M369.5 171.2L332.0 165.8M382.5 171.2L355.2 160.3M374.2 172.1L336.9 187.7M386.3 179.9L332.6 182.3M384.8 174.4L325.7 219.0M386.8 183.9L337.8 185.0M393.5 174.5L366.6 171.2M402.6 180.8L353.4 186.9M378.6 179.9L362.6 173.5M389.5 192.5L362.7 171.3M381.6 180.6L344.0 156.8M395.8 164.5L311.9 180.0M385.4 163.2L308.6 190.0M380.9 160.0L409.1 215.9M401.3 175.3L331.8 170.7M397.4 172.9L315.3 203.0M394.6 168.1L338.5 200.6M372.1 177.9L355.5 205.1M377.7 172.6L339.4 218.8M392.2 168.3L344.8 188.8M384.3 178.7L326.4 170.7M403.2 183.3L336.4 221.9M398.0 160.0L373.6 206.2M387.1 174.5L403.5 192.3M365.8 175.3L369.9 156.9M396.9 174.9L315.6 180.4M379.5 179.2L339.4 172.5M398.8 171.6L349.6 182.4M379.6 180.0L325.3 173.2M402.9 162.6L329.7 186.0M364.7 158.5L342.2 206.5M388.2 171.1L327.2 239.4M391.0 167.5L416.2 213.9M379.8 162.9L430.9 181.2M381.4 176.9L354.5 209.5M380.2 174.9L382.6 212.3M379.3 171.1L409.5 182.8M394.9 176.9L370.4 165.7M385.7 174.4L343.4 223.8M374.5 169.6L376.4 208.4M379.3 173.2L340.2 162.4M397.8 174.8L350.2 189.9M394.4 184.8L375.5 190.3M391.2 182.5L383.6 156.8M387.1 172.6L418.7 187.0M379.7 185.0L352.2 194.7M385.6 178.2L398.8 167.5M380.3 181.2L355.9 188.9M395.2 169.1L397.3 178.1M381.0 171.4L435.2 197.9M390.8 170.2L411.4 160.0M382.0 184.0L400.3 177.6M392.4 173.4L324.8 206.4M387.4 180.9L390.1 166.1M387.8 170.0L377.9 202.4M395.3 192.2L353.6 211.3M394.3 180.7L339.5 198.7M390.2 176.4L377.7 165.8M386.2 179.6L359.1 199.8M399.0 177.3L353.9 194.8M384.9 172.0L356.5 225.4M392.8 180.5L393.9 149.9M390.5 180.5L358.6 162.9M391.9 173.8L400.2 176.1M387.4 182.6L398.1 209.2M384.7 190.0L337.9 173.0M386.3 184.6L379.1 227.4M393.7 180.9L339.5 179.4M387.2 168.2L341.3 160.2M382.7 181.5L381.1 191.1M390.7 170.0L356.0 175.0M378.1 172.5L337.1 184.0M393.1 177.4L366.5 195.3M384.5 169.4L306.5 211.5M388.9 160.7L375.0 175.0M385.6 176.7L343.8 154.6M380.5 180.8L337.2 155.3M386.2 188.6L337.0 208.8M387.9 178.1L408.4 165.3M385.4 173.0L382.4 187.3M388.5 180.6L357.4 188.2M381.2 184.3L390.2 222.0M373.1 170.3L363.0 207.5M382.7 169.1L424.7 184.3M387.2 169.3L424.5 195.5M383.8 173.6L364.5 194.7M387.6 170.4L409.7 165.3M397.9 180.6L322.3 206.6M389.5 170.0L429.4 212.5M367.6 182.4L345.2 150.4M392.1 166.4L353.8 186.1M383.0 168.0L290.8 180.2M266.9 181.6L268.2 175.3M298.8 180.3L293.8 185.5M304.3 176.7L306.0 180.4M309.5 191.6L309.0 197.8M289.1 205.7L294.8 206.0M315.2 201.0L318.3 196.8M314.0 205.6L316.3 204.0M301.9 217.7L304.0 214.2M286.4 214.8L281.5 215.2M318.9 228.2L321.4 225.4M299.3 242.9L298.9 238.7M334.3 202.8L332.6 200.9M340.0 203.5L336.7 207.0M371.0 175.5L366.0 175.4L369.6 172.0M332.5 184.8L327.5 184.3L331.5 181.2M441.1 188.0L445.1 191.0L440.1 191.7M386.8 188.0L383.9 192.1L383.1 187.2M403.0 196.8L403.7 201.7L399.7 198.7M336.2 170.0L331.9 167.5L336.8 166.3M411.7 205.0L414.0 209.4L409.3 207.8M391.4 195.1L390.4 200.0L387.7 195.7M387.0 192.7L386.8 197.7L383.5 194.0M381.0 178.8L377.5 175.3L382.5 175.3M393.7 212.5L393.9 217.5L390.3 214.0M317.1 203.6L312.1 203.5L315.8 200.1M408.9 169.0L413.7 170.4L409.3 172.7M353.1 202.0L348.2 203.1L351.0 198.9M408.0 165.9L412.7 164.3L410.4 168.7M290.7 179.5L285.9 177.9L290.5 175.8M330.9 198.0L325.9 197.9L329.6 194.5M390.8 188.4L393.3 192.7L388.5 191.3M416.2 222.1L417.1 227.0L413.0 224.1M331.5 156.6L327.0 154.4L331.7 152.9M408.4 183.9L408.1 188.9L404.8 185.1M364.2 207.9L359.6 209.8L361.6 205.2M369.5 206.8L365.1 209.1L366.7 204.4M361.8 196.8L358.4 200.4L358.4 195.4M303.7 156.5L299.6 153.7L304.5 152.9M332.2 189.7L327.3 189.1L331.2 186.1M386.0 191.8L382.7 195.6L382.5 190.6M370.6 190.1L366.0 192.0L367.9 187.4M338.3 168.6L333.9 166.1L338.8 164.9M360.7 164.5L357.1 161.0L362.1 161.0M343.8 186.8L338.8 186.9L342.3 183.4M339.4 183.9L334.6 182.2L339.2 180.1M332.1 216.5L327.3 217.8L329.9 213.5M344.5 186.7L339.8 184.9L344.4 183.0M373.0 173.9L368.6 171.4L373.4 170.2M360.2 187.9L355.3 186.7L359.7 184.2M368.1 177.7L364.4 174.2L369.4 174.2M366.7 176.9L364.2 172.5L369.0 173.9M348.6 162.0L345.7 157.9L350.6 158.8M318.8 180.6L313.9 179.6L318.1 176.9M315.5 189.6L310.5 189.3L314.2 186.0M407.8 209.2L408.2 214.1L404.5 210.8M338.3 173.0L333.8 170.9L338.5 169.3M322.2 202.5L317.2 202.3L320.9 198.9M345.2 198.9L340.2 199.6L343.3 195.6M360.6 200.4L356.6 203.4L357.4 198.5M345.1 214.9L340.7 217.3L342.2 212.5M351.7 187.9L346.7 188.0L350.2 184.5M332.7 173.5L328.4 171.0L333.2 169.8M343.1 220.2L338.1 220.9L341.2 216.9M378.3 201.3L374.5 204.5L375.0 199.5M400.4 186.2L402.1 190.9L397.6 188.7M366.6 163.0L369.4 158.9L370.2 163.8M322.4 181.8L317.6 180.2L322.1 178.1M345.6 175.5L341.3 172.9L346.2 171.8M356.5 182.8L351.5 182.0L355.7 179.2M331.6 175.9L327.2 173.4L332.1 172.2M336.5 185.7L331.6 185.4L335.4 182.2M346.8 201.3L343.1 204.7L343.4 199.7M333.0 235.7L328.6 238.0L330.3 233.2M414.6 207.1L415.2 212.1L411.3 208.9M425.2 177.2L429.0 180.5L424.0 180.7M360.2 205.6L355.8 208.0L357.3 203.2M384.0 205.5L382.5 210.3L380.3 205.8M404.0 178.6L407.6 182.0L402.6 182.1M375.7 170.2L372.2 166.5L377.2 166.7M349.1 220.0L344.7 222.3L346.3 217.6M377.9 201.7L376.3 206.4L374.2 201.8M346.1 166.0L342.1 162.9L347.1 162.4M357.1 189.7L352.1 189.3L355.9 186.1M382.4 190.2L377.4 189.7L381.4 186.6M383.7 163.7L384.1 158.7L387.3 162.7M413.5 182.5L416.9 186.1L411.9 185.9M359.0 194.2L354.0 194.0L357.8 190.7M392.5 170.2L397.2 168.7L394.8 173.1M362.8 188.7L357.8 188.3L361.7 185.1M397.6 171.2L396.9 176.1L394.0 172.0M430.0 193.3L433.4 197.0L428.4 196.6M404.6 161.2L409.6 160.9L406.3 164.6M393.4 178.0L398.4 178.3L394.6 181.6M331.6 205.1L326.6 205.5L329.9 201.8M387.1 172.3L389.7 168.1L390.7 173.0M381.7 196.6L378.5 200.5L378.1 195.5M360.4 210.3L355.4 210.5L358.9 206.9M346.4 198.4L341.4 198.1L345.3 194.9M381.5 171.5L379.2 167.1L383.9 168.7M365.5 197.4L360.7 198.6L363.3 194.4M360.7 194.1L355.7 194.0L359.4 190.6M361.3 220.5L357.5 223.7L358.0 218.7M391.8 156.5L393.8 151.9L395.5 156.6M363.5 167.8L360.4 163.9L365.4 164.5M394.3 172.5L398.2 175.5L393.3 176.1M397.4 202.4L397.3 207.4L393.9 203.8M343.5 177.0L339.7 173.7L344.7 173.5M382.1 221.2L379.5 225.4L378.4 220.6M346.1 181.4L341.5 179.4L346.2 177.7M347.5 163.2L343.2 160.5L348.1 159.5M384.0 184.8L381.4 189.1L380.3 184.2M362.8 175.9L358.0 174.7L362.3 172.2M344.0 184.0L339.1 183.4L343.0 180.4M373.0 193.2L368.1 194.2L370.9 190.0M313.2 210.0L308.2 210.5L311.4 206.7M380.9 171.6L376.4 173.6L378.2 169.0M348.8 159.4L345.6 155.6L350.5 156.1M341.9 160.3L338.9 156.3L343.8 157.1M343.9 208.0L338.9 208.1L342.5 204.6M401.8 167.2L406.7 166.4L403.8 170.4M385.6 181.1L382.8 185.3L382.0 180.4M364.3 188.5L359.3 187.8L363.4 184.8M390.5 215.1L389.7 220.1L386.8 216.0M366.5 201.6L363.5 205.6L362.9 200.6M419.1 180.2L422.8 183.6L417.8 183.8M420.2 190.2L422.9 194.4L418.0 193.2M370.4 191.0L365.9 193.2L367.6 188.5M402.9 164.9L407.8 165.7L403.7 168.6M329.2 206.2L324.2 206.0L328.0 202.7M426.2 206.4L428.0 211.0L423.5 208.9M347.5 156.9L346.3 152.0L350.5 154.7M360.5 184.8L355.6 185.2L358.8 181.4M297.6 181.2L292.8 180.0L297.1 177.5M266.2 179.8L267.8 177.3L268.4 180.2M297.9 182.9L295.2 184.1L296.3 181.3M305.0 175.6L305.2 178.6L303.0 176.5M310.5 193.1L309.2 195.8L308.3 192.9M290.1 204.6L292.8 205.9L290.0 206.9M314.6 200.0L317.1 198.4L316.4 201.3M311.7 205.7L314.6 205.1L313.0 207.6M300.5 217.7L303.0 215.9L302.5 218.9M286.4 216.0L283.5 215.1L286.2 213.7M317.4 228.2L320.1 226.9L319.0 229.7M298.2 243.6L299.1 240.7L300.5 243.4M334.9 205.2L333.9 202.4L336.6 203.8M340.8 204.3L338.1 205.6L339.2 202.8" fill="none" stroke="#f28b32" stroke-width="1"/>
<path d="M381.0 175.0L452.0 18.6M344.0 170.0L407.8 51.7M401.8 186.8L332.8 120.7M395.6 177.3L353.4 126.5M384.3 176.1L404.3 116.7M378.0 171.5L411.8 116.7M379.2 188.4L451.5 113.0M359.8 183.5L458.0 114.1M365.4 162.4L481.9 113.6M357.1 167.3L368.6 128.8M390.0 174.0L584.9 43.6M385.6 166.8L521.9 75.4M387.8 161.5L489.1 127.8M389.3 170.9L513.1 129.7M370.0 185.5L535.2 147.9M390.0 187.0L648.9 147.1M404.3 178.3L489.1 158.1M400.3 181.7L528.8 158.7M388.2 170.8L510.4 182.2M404.7 168.9L561.4 181.0M385.7 180.9L491.0 193.2M400.0 188.0L530.2 196.0M400.0 190.0L534.6 196.2M400.0 195.0L497.1 205.6M372.0 175.0L298.7 64.3M339.0 190.0L296.8 96.0M380.7 166.9L313.5 113.1M403.6 189.5L354.3 133.0M365.2 171.7L273.3 162.2M271.5 161.8L266.3 175.3M311.4 180.4L303.0 179.7M395.6 183.6L384.5 242.7M403.6 163.4L393.9 235.2M394.7 176.3L448.3 254.6M331.0 200.0L504.9 299.4M366.0 180.0L441.3 356.2M385.0 180.0L460.0 380.7M363.7 186.3L460.9 223.5M405.0 200.0L533.3 232.6M405.0 202.0L564.2 245.6M410.0 204.0L530.8 248.9M400.0 200.0L566.1 273.5M375.9 182.7L359.5 246.5M299.1 193.4L307.0 197.5M317.9 230.4L321.0 226.4M298.0 210.2L305.3 214.2M327.9 205.7L318.4 204.5M390.3 174.8L418.4 138.9M398.7 185.6L439.4 141.2M384.4 182.1L426.3 148.2M375.1 175.0L446.4 151.1M370.4 170.4L468.3 149.4M428.0 167.5L463.9 163.4M403.5 177.5L422.8 171.8M389.7 156.9L474.4 173.6M389.0 162.4L478.8 184.9M377.2 168.6L465.7 180.6" fill="none" stroke="#f28b32" stroke-width="1.0"/>
<path d="M446.1 25.2L451.2 20.4L450.9 27.4M401.5 57.9L406.9 53.5L406.1 60.4M337.1 128.5L334.2 122.1L340.7 124.7M356.8 134.7L354.7 128.0L360.8 131.4M399.1 123.9L403.7 118.6L404.1 125.6M405.1 122.5L410.7 118.4L409.6 125.3M443.7 117.3L450.1 114.4L447.5 120.9M449.6 116.9L456.4 115.3L452.6 121.1M473.1 114.5L480.1 114.4L475.1 119.3M363.7 136.2L368.0 130.7L368.7 137.7M576.4 46.1L583.2 44.7L579.3 50.5M513.4 78.0L520.2 76.5L516.3 82.3M480.2 128.0L487.2 128.4L481.9 133.0M504.2 129.9L511.2 130.3L505.9 134.9M526.3 147.2L533.2 148.3L527.5 152.3M640.1 145.8L646.9 147.4L640.9 151.0M480.2 157.5L487.2 158.6L481.4 162.6M520.0 157.6L526.8 159.1L520.9 162.8M502.2 178.8L508.4 182.0L501.7 184.0M553.1 177.7L559.4 180.8L552.7 183.0M482.9 189.6L489.0 193.0L482.3 194.8M521.9 192.9L528.2 195.9L521.6 198.1M526.2 193.2L532.6 196.1L526.0 198.4M488.9 202.1L495.1 205.4L488.4 207.3M301.2 72.8L299.8 66.0L305.6 69.9M297.9 104.8L297.6 97.8L302.7 102.7M318.5 120.5L315.1 114.3L321.8 116.4M357.9 141.1L355.6 134.5L361.9 137.7M281.5 165.7L275.3 162.4L282.0 160.5M271.8 168.3L267.0 173.4L266.9 166.4M311.2 183.0L305.0 179.9L311.7 177.8M388.6 234.8L384.9 240.7L383.5 233.9M397.6 227.1L394.2 233.2L392.4 226.4M445.7 246.1L447.2 252.9L441.3 249.1M498.8 292.9L503.2 298.4L496.2 297.5M440.4 347.4L440.5 354.4L435.6 349.4M459.5 371.8L459.3 378.8L454.6 373.7M453.9 218.0L459.0 222.8L452.0 222.9M525.7 228.0L531.4 232.1L524.4 233.1M556.7 240.8L562.3 245.1L555.3 245.9M523.8 243.5L528.9 248.2L521.9 248.4M559.4 267.7L564.3 272.7L557.3 272.5M364.2 238.9L360.0 244.6L359.1 237.6M300.7 191.2L305.2 196.6L298.3 195.9M313.8 231.6L319.8 228.0L317.9 234.7M299.1 207.8L303.5 213.2L296.6 212.5M326.5 208.2L320.4 204.8L327.2 203.0M411.1 144.0L417.2 140.5L415.2 147.2M431.7 145.7L438.0 142.7L435.6 149.2M418.1 151.5L424.7 149.5L421.4 155.6M437.5 151.3L444.5 151.7L439.2 156.3M459.4 148.6L466.3 149.8L460.5 153.7M455.2 161.8L461.9 163.6L455.8 167.0M413.9 171.7L420.9 172.4L415.4 176.7M466.6 169.4L472.4 173.2L465.6 174.5M471.2 180.3L476.9 184.4L469.9 185.4M457.6 176.9L463.7 180.3L456.9 182.1" fill="none" stroke="#f28b32" stroke-width="1.1"/>
<g fill="none" stroke="#3b8ed4" stroke-width="1"><circle cx="250.5" cy="197.6" r="3.1"/><circle cx="274.6" cy="217.8" r="3.1"/><circle cx="218.2" cy="156.6" r="3.1"/><circle cx="297.9" cy="174.5" r="3.1"/><circle cx="298.7" cy="176.7" r="3.1"/><circle cx="239.9" cy="179.9" r="3.1"/><circle cx="265.3" cy="199.5" r="3.1"/><circle cx="236.8" cy="230.7" r="3.1"/><circle cx="261.4" cy="191.0" r="3.1"/><circle cx="329.5" cy="208.9" r="3.1"/><circle cx="264.1" cy="184.4" r="3.1"/><circle cx="299.4" cy="172.3" r="3.1"/><circle cx="245.9" cy="215.4" r="3.1"/><circle cx="329.0" cy="222.3" r="3.1"/><circle cx="320.6" cy="229.2" r="3.1"/><circle cx="249.9" cy="212.9" r="3.1"/><circle cx="281.1" cy="210.8" r="3.1"/><circle cx="293.4" cy="165.3" r="3.1"/><circle cx="249.3" cy="220.8" r="3.1"/><circle cx="310.2" cy="191.4" r="3.1"/><circle cx="301.4" cy="179.1" r="3.1"/><circle cx="245.6" cy="194.2" r="3.1"/><circle cx="279.7" cy="219.8" r="3.1"/><circle cx="266.8" cy="179.6" r="3.1"/><circle cx="306.0" cy="190.4" r="3.1"/><circle cx="274.5" cy="183.7" r="3.1"/><circle cx="263.4" cy="180.1" r="3.1"/><circle cx="261.9" cy="178.9" r="3.1"/><circle cx="255.0" cy="211.9" r="3.1"/><circle cx="288.1" cy="182.6" r="3.1"/><circle cx="253.4" cy="196.9" r="3.1"/><circle cx="252.8" cy="207.7" r="3.1"/><circle cx="322.7" cy="182.7" r="3.1"/><circle cx="230.4" cy="197.3" r="3.1"/><circle cx="307.3" cy="216.8" r="3.1"/><circle cx="267.2" cy="184.4" r="3.1"/><circle cx="249.8" cy="190.6" r="3.1"/><circle cx="250.8" cy="217.8" r="3.1"/><circle cx="267.8" cy="203.3" r="3.1"/><circle cx="287.1" cy="207.7" r="3.1"/><circle cx="279.1" cy="216.6" r="3.1"/><circle cx="297.7" cy="235.9" r="3.1"/><circle cx="257.3" cy="206.6" r="3.1"/><circle cx="285.6" cy="212.1" r="3.1"/><circle cx="228.5" cy="205.2" r="3.1"/><circle cx="263.8" cy="234.0" r="3.1"/><circle cx="280.0" cy="201.3" r="3.1"/><circle cx="330.3" cy="215.0" r="3.1"/><circle cx="307.6" cy="235.3" r="3.1"/><circle cx="312.9" cy="223.2" r="3.1"/><circle cx="245.1" cy="224.2" r="3.1"/><circle cx="277.7" cy="215.3" r="3.1"/><circle cx="267.8" cy="231.9" r="3.1"/><circle cx="313.5" cy="217.4" r="3.1"/><circle cx="293.3" cy="203.8" r="3.1"/><circle cx="263.2" cy="230.9" r="3.1"/><circle cx="277.9" cy="227.7" r="3.1"/><circle cx="268.3" cy="230.6" r="3.1"/><circle cx="267.8" cy="208.2" r="3.1"/><circle cx="304.2" cy="234.0" r="3.1"/><circle cx="293.2" cy="193.8" r="3.1"/><circle cx="277.8" cy="189.0" r="3.1"/><circle cx="233.3" cy="203.1" r="3.1"/><circle cx="232.2" cy="222.9" r="3.1"/><circle cx="330.9" cy="206.2" r="3.1"/><circle cx="310.9" cy="180.8" r="3.1"/><circle cx="320.8" cy="210.8" r="3.1"/><circle cx="242.8" cy="223.6" r="3.1"/><circle cx="239.7" cy="214.9" r="3.1"/><circle cx="262.8" cy="180.2" r="3.1"/><circle cx="289.0" cy="186.9" r="3.1"/><circle cx="328.0" cy="222.9" r="3.1"/><circle cx="319.4" cy="209.0" r="3.1"/><circle cx="257.7" cy="193.4" r="3.1"/><circle cx="306.1" cy="203.8" r="3.1"/><circle cx="254.1" cy="204.7" r="3.1"/><circle cx="254.2" cy="199.7" r="3.1"/><circle cx="263.7" cy="228.6" r="3.1"/><circle cx="320.2" cy="235.2" r="3.1"/><circle cx="317.9" cy="228.2" r="3.1"/><circle cx="255.2" cy="179.8" r="3.1"/><circle cx="258.7" cy="201.8" r="3.1"/><circle cx="245.6" cy="224.8" r="3.1"/><circle cx="246.1" cy="199.4" r="3.1"/><circle cx="290.6" cy="200.5" r="3.1"/><circle cx="256.8" cy="189.9" r="3.1"/><circle cx="297.4" cy="201.6" r="3.1"/><circle cx="277.9" cy="239.3" r="3.1"/><circle cx="310.6" cy="237.0" r="3.1"/><circle cx="229.3" cy="191.7" r="3.1"/><circle cx="318.3" cy="191.2" r="3.1"/><circle cx="249.2" cy="225.8" r="3.1"/><circle cx="270.3" cy="210.7" r="3.1"/><circle cx="247.0" cy="177.7" r="3.1"/><circle cx="308.4" cy="179.9" r="3.1"/><circle cx="319.1" cy="192.0" r="3.1"/><circle cx="299.6" cy="181.3" r="3.1"/><circle cx="283.2" cy="209.7" r="3.1"/><circle cx="312.3" cy="197.7" r="3.1"/><circle cx="257.6" cy="202.1" r="3.1"/><circle cx="224.4" cy="181.6" r="3.1"/><circle cx="252.5" cy="201.7" r="3.1"/><circle cx="337.4" cy="216.9" r="3.1"/><circle cx="265.7" cy="209.1" r="3.1"/><circle cx="205.1" cy="230.7" r="3.1"/><circle cx="223.2" cy="181.8" r="3.1"/><circle cx="260.2" cy="160.8" r="3.1"/><circle cx="326.7" cy="246.1" r="3.1"/><circle cx="250.0" cy="243.9" r="3.1"/><circle cx="310.4" cy="242.7" r="3.1"/><circle cx="294.2" cy="258.7" r="3.1"/><circle cx="230.7" cy="174.9" r="3.1"/><circle cx="262.6" cy="162.0" r="3.1"/><circle cx="342.0" cy="242.0" r="3.1"/><circle cx="245.7" cy="240.1" r="3.1"/><circle cx="342.0" cy="231.6" r="3.1"/><circle cx="261.5" cy="157.7" r="3.1"/></g>
<g fill="none" stroke="#4079b4" stroke-width="1"><circle cx="162.1" cy="94.9" r="3.1"/><circle cx="181.9" cy="92.8" r="3.1"/><circle cx="117.2" cy="122.0" r="3.1"/><circle cx="179.1" cy="129.4" r="3.1"/><circle cx="232.9" cy="117.0" r="3.1"/><circle cx="253.9" cy="63.6" r="3.1"/><circle cx="121.4" cy="142.3" r="3.1"/><circle cx="128.9" cy="150.5" r="3.1"/><circle cx="143.4" cy="141.1" r="3.1"/><circle cx="143.4" cy="150.0" r="3.1"/><circle cx="151.1" cy="144.6" r="3.1"/><circle cx="156.9" cy="145.8" r="3.1"/><circle cx="150.4" cy="161.0" r="3.1"/><circle cx="155.7" cy="164.5" r="3.1"/><circle cx="209.5" cy="159.3" r="3.1"/><circle cx="222.3" cy="155.1" r="3.1"/><circle cx="251.5" cy="143.0" r="3.1"/><circle cx="229.3" cy="168.0" r="3.1"/><circle cx="169.8" cy="172.3" r="3.1"/><circle cx="183.0" cy="166.1" r="3.1"/><circle cx="182.5" cy="173.4" r="3.1"/><circle cx="173.8" cy="182.1" r="3.1"/><circle cx="180.8" cy="180.4" r="3.1"/><circle cx="237.3" cy="170.5" r="3.1"/><circle cx="204.9" cy="173.8" r="3.1"/><circle cx="211.0" cy="180.8" r="3.1"/><circle cx="112.2" cy="195.7" r="3.1"/><circle cx="153.8" cy="195.0" r="3.1"/><circle cx="182.5" cy="202.3" r="3.1"/><circle cx="193.9" cy="199.2" r="3.1"/><circle cx="162.2" cy="212.1" r="3.1"/><circle cx="185.6" cy="212.1" r="3.1"/><circle cx="174.2" cy="218.7" r="3.1"/><circle cx="180.3" cy="218.7" r="3.1"/><circle cx="166.5" cy="224.6" r="3.1"/><circle cx="178.6" cy="224.6" r="3.1"/><circle cx="203.8" cy="203.4" r="3.1"/><circle cx="206.0" cy="208.8" r="3.1"/><circle cx="211.0" cy="220.2" r="3.1"/><circle cx="218.0" cy="218.7" r="3.1"/><circle cx="197.2" cy="229.0" r="3.1"/><circle cx="204.9" cy="230.7" r="3.1"/><circle cx="220.2" cy="229.6" r="3.1"/><circle cx="186.9" cy="239.5" r="3.1"/><circle cx="224.6" cy="236.2" r="3.1"/><circle cx="215.8" cy="244.3" r="3.1"/><circle cx="165.4" cy="248.2" r="3.1"/><circle cx="233.3" cy="212.8" r="3.1"/><circle cx="234.4" cy="278.0" r="3.1"/><circle cx="237.7" cy="295.5" r="3.1"/><circle cx="274.3" cy="277.1" r="3.1"/><circle cx="246.5" cy="246.0" r="3.1"/><circle cx="268.8" cy="251.9" r="3.1"/><circle cx="300.1" cy="254.7" r="3.1"/><circle cx="306.5" cy="265.0" r="3.1"/><circle cx="323.5" cy="270.5" r="3.1"/><circle cx="303.8" cy="287.4" r="3.1"/><circle cx="314.3" cy="294.6" r="3.1"/><circle cx="319.8" cy="294.6" r="3.1"/><circle cx="325.3" cy="293.9" r="3.1"/><circle cx="307.3" cy="329.2" r="3.1"/><circle cx="335.1" cy="323.5" r="3.1"/><circle cx="363.4" cy="296.1" r="3.1"/><circle cx="369.5" cy="298.3" r="3.1"/><circle cx="373.5" cy="368.4" r="3.1"/><circle cx="360.1" cy="238.8" r="3.1"/><circle cx="343.2" cy="270.0" r="3.1"/><circle cx="348.7" cy="270.5" r="3.1"/><circle cx="367.3" cy="267.2" r="3.1"/><circle cx="365.1" cy="253.6" r="3.1"/><circle cx="371.7" cy="259.6" r="3.1"/><circle cx="275.4" cy="242.0" r="3.1"/><circle cx="268.1" cy="238.8" r="3.1"/><circle cx="247.3" cy="237.7" r="3.1"/><circle cx="448.3" cy="300.1" r="3.1"/><circle cx="422.6" cy="349.7" r="3.1"/><circle cx="483.8" cy="371.9" r="3.1"/><circle cx="368.2" cy="267.9" r="3.1"/><circle cx="396.2" cy="230.5" r="3.1"/><circle cx="260.4" cy="133.5" r="3.1"/><circle cx="275.5" cy="137.7" r="3.1"/><circle cx="284.5" cy="140.6" r="3.1"/><circle cx="297.7" cy="137.7" r="3.1"/><circle cx="347.1" cy="111.7" r="3.1"/><circle cx="336.3" cy="143.4" r="3.1"/><circle cx="268.0" cy="148.5" r="3.1"/><circle cx="263.6" cy="161.3" r="3.1"/><circle cx="298.3" cy="161.6" r="3.1"/><circle cx="306.9" cy="162.2" r="3.1"/><circle cx="332.8" cy="167.4" r="3.1"/><circle cx="360.4" cy="202.2" r="3.1"/><circle cx="373.2" cy="201.9" r="3.1"/><circle cx="349.0" cy="200.7" r="3.1"/><circle cx="388.4" cy="221.2" r="3.1"/><circle cx="413.0" cy="206.3" r="3.1"/><circle cx="360.4" cy="237.8" r="3.1"/><circle cx="356.0" cy="183.5" r="3.1"/><circle cx="334.2" cy="185.3" r="3.1"/><circle cx="353.4" cy="221.2" r="3.1"/><circle cx="377.0" cy="166.5" r="3.1"/><circle cx="358.6" cy="173.7" r="3.1"/></g>
<path d="M452.0 14.8L455.5 20.9L448.5 20.9ZM407.8 47.9L411.3 54.0L404.3 54.0ZM332.8 116.9L336.3 123.0L329.3 123.0ZM353.4 122.7L356.9 128.8L349.9 128.8ZM404.3 112.9L407.8 119.0L400.8 119.0ZM411.8 112.9L415.3 119.0L408.3 119.0ZM451.5 109.2L455.0 115.3L448.0 115.3ZM458.0 110.3L461.5 116.4L454.5 116.4ZM481.9 109.8L485.4 115.9L478.4 115.9ZM368.6 125.0L372.1 131.1L365.1 131.1ZM584.9 39.8L588.4 45.9L581.4 45.9ZM521.9 71.6L525.4 77.7L518.4 77.7ZM489.1 124.0L492.6 130.1L485.6 130.1ZM513.1 125.9L516.6 132.0L509.6 132.0ZM535.2 144.1L538.7 150.2L531.7 150.2ZM648.9 143.3L652.4 149.4L645.4 149.4ZM489.1 154.3L492.6 160.4L485.6 160.4ZM528.8 154.9L532.3 161.0L525.3 161.0ZM510.4 178.4L513.9 184.5L506.9 184.5ZM561.4 177.2L564.9 183.3L557.9 183.3ZM491.0 189.4L494.5 195.5L487.5 195.5ZM530.2 192.2L533.7 198.3L526.7 198.3ZM534.6 192.4L538.1 198.5L531.1 198.5ZM497.1 201.8L500.6 207.9L493.6 207.9ZM298.7 60.5L302.2 66.6L295.2 66.6ZM296.8 92.2L300.3 98.3L293.3 98.3ZM313.5 109.3L317.0 115.4L310.0 115.4ZM354.3 129.2L357.8 135.3L350.8 135.3ZM273.3 158.4L276.8 164.5L269.8 164.5ZM266.3 171.5L269.8 177.6L262.8 177.6ZM303.0 175.9L306.5 182.0L299.5 182.0ZM384.5 238.9L388.0 245.0L381.0 245.0ZM393.9 231.4L397.4 237.5L390.4 237.5ZM448.3 250.8L451.8 256.9L444.8 256.9ZM504.9 295.6L508.4 301.7L501.4 301.7ZM441.3 352.4L444.8 358.5L437.8 358.5ZM460.0 376.9L463.5 383.0L456.5 383.0ZM460.9 219.7L464.4 225.8L457.4 225.8ZM533.3 228.8L536.8 234.9L529.8 234.9ZM564.2 241.8L567.7 247.9L560.7 247.9ZM530.8 245.1L534.3 251.2L527.3 251.2ZM566.1 269.7L569.6 275.8L562.6 275.8ZM359.5 242.7L363.0 248.8L356.0 248.8ZM307.0 193.7L310.5 199.8L303.5 199.8ZM321.0 222.6L324.5 228.7L317.5 228.7ZM305.3 210.4L308.8 216.5L301.8 216.5ZM318.4 200.7L321.9 206.8L314.9 206.8ZM418.4 135.1L421.9 141.2L414.9 141.2ZM439.4 137.4L442.9 143.5L435.9 143.5ZM426.3 144.4L429.8 150.5L422.8 150.5ZM446.4 147.3L449.9 153.4L442.9 153.4ZM468.3 145.6L471.8 151.7L464.8 151.7ZM463.9 159.6L467.4 165.7L460.4 165.7ZM422.8 168.0L426.3 174.1L419.3 174.1ZM474.4 169.8L477.9 175.9L470.9 175.9ZM478.8 181.1L482.3 187.2L475.3 187.2ZM465.7 176.8L469.2 182.9L462.2 182.9ZM330.0 163.4L333.5 169.4L326.5 169.4ZM415.7 166.5L419.2 172.6L412.2 172.6ZM364.6 189.7L368.1 195.7L361.1 195.7ZM325.7 215.2L329.2 221.3L322.2 221.3ZM337.8 181.2L341.3 187.3L334.3 187.3ZM366.6 167.4L370.1 173.5L363.1 173.5ZM362.6 169.7L366.1 175.8L359.1 175.8ZM362.7 167.5L366.2 173.6L359.2 173.6ZM308.6 186.2L312.1 192.3L305.1 192.3ZM338.5 196.8L342.0 202.9L335.0 202.9ZM403.5 188.6L407.0 194.6L400.0 194.6ZM339.4 168.8L342.9 174.8L335.9 174.8ZM325.3 169.4L328.8 175.5L321.8 175.5ZM329.7 182.2L333.2 188.3L326.2 188.3ZM327.2 235.7L330.7 241.8L323.7 241.8ZM409.5 179.0L413.0 185.1L406.0 185.1ZM350.2 186.2L353.7 192.2L346.7 192.2ZM375.5 186.5L379.0 192.6L372.0 192.6ZM383.6 153.1L387.1 159.1L380.1 159.1ZM400.3 173.8L403.8 179.9L396.8 179.9ZM377.9 198.6L381.4 204.7L374.4 204.7ZM356.5 221.7L360.0 227.7L353.0 227.7ZM358.6 159.2L362.1 165.2L355.1 165.2ZM356.0 171.2L359.5 177.3L352.5 177.3ZM306.5 207.7L310.0 213.8L303.0 213.8ZM343.8 150.9L347.3 157.0L340.3 157.0ZM337.0 205.1L340.5 211.1L333.5 211.1ZM424.5 191.8L428.0 197.8L421.0 197.8ZM364.5 190.9L368.0 197.0L361.0 197.0ZM322.3 202.9L325.8 208.9L318.8 208.9ZM345.2 146.6L348.7 152.7L341.7 152.7ZM353.8 182.4L357.3 188.5L350.3 188.5ZM290.8 176.5L294.3 182.5L287.3 182.5ZM268.2 171.5L271.7 177.6L264.7 177.6ZM293.8 181.7L297.3 187.8L290.3 187.8ZM306.0 176.6L309.5 182.7L302.5 182.7ZM309.0 194.0L312.5 200.1L305.5 200.1ZM294.8 202.2L298.3 208.3L291.3 208.3ZM318.3 193.0L321.8 199.1L314.8 199.1ZM316.3 200.2L319.8 206.3L312.8 206.3ZM304.0 210.4L307.5 216.5L300.5 216.5ZM281.5 211.4L285.0 217.5L278.0 217.5ZM321.4 221.6L324.9 227.7L317.9 227.7ZM298.9 234.9L302.4 241.0L295.4 241.0ZM332.6 197.1L336.1 203.2L329.1 203.2ZM336.7 203.2L340.2 209.3L333.2 209.3Z" fill="none" stroke="#dc8440" stroke-width="1"/>
</g>
<text x="381.5" y="143" font-size="12" fill="#dc8440">ID273</text>
<text x="335" y="152" font-size="12" fill="#dc8440">ID18</text>
<text x="370" y="156" font-size="12" fill="#dc8440">ID403</text>
<text x="413.5" y="156" font-size="12" fill="#dc8440">ID275</text>
<text x="436" y="181" font-size="12" fill="#dc8440">ID213</text>
<text x="438.5" y="192" font-size="12" fill="#dc8440">ID200</text>
<text x="401" y="212" font-size="12" fill="#dc8440">ID1</text>
<text x="420" y="215" font-size="12" fill="#dc8440">ID403</text>
<text x="370" y="230" font-size="12" fill="#dc8440">ID505</text>
<text x="397" y="248" font-size="12" fill="#dc8440">ID93</text>
<text x="308" y="163" font-size="12" fill="#dc8440">ID162</text>
<text x="345" y="216" font-size="12" fill="#dc8440">ID24</text>
<text x="338" y="262" font-size="12" fill="#4079b4">ID1166</text>
<text x="346.5" y="282.5" font-size="12" fill="#4079b4">ID197</text>
<rect x="90.8" y="4.7" width="578.6" height="391.5" fill="none" stroke="#4d4d4d" stroke-width="1.3"/>
<line x1="156.0" y1="396.2" x2="156.0" y2="403.4" stroke="#4d4d4d" stroke-width="1.2"/>
<text x="156.0" y="421.8" font-size="12" text-anchor="middle" fill="#222">-5</text>
<line x1="315.5" y1="396.2" x2="315.5" y2="403.4" stroke="#4d4d4d" stroke-width="1.2"/>
<text x="315.5" y="421.8" font-size="12" text-anchor="middle" fill="#222">0</text>
<line x1="475.0" y1="396.2" x2="475.0" y2="403.4" stroke="#4d4d4d" stroke-width="1.2"/>
<text x="475.0" y="421.8" font-size="12" text-anchor="middle" fill="#222">5</text>
<line x1="634.5" y1="396.2" x2="634.5" y2="403.4" stroke="#4d4d4d" stroke-width="1.2"/>
<text x="634.5" y="421.8" font-size="12" text-anchor="middle" fill="#222">10</text>
<line x1="83.6" y1="361.2" x2="90.8" y2="361.2" stroke="#4d4d4d" stroke-width="1.2"/>
<text transform="translate(73.7 361.2) rotate(-90)" font-size="12" text-anchor="middle" fill="#222">-10</text>
<line x1="83.6" y1="280.0" x2="90.8" y2="280.0" stroke="#4d4d4d" stroke-width="1.2"/>
<text transform="translate(73.7 280.0) rotate(-90)" font-size="12" text-anchor="middle" fill="#222">-5</text>
<line x1="83.6" y1="198.8" x2="90.8" y2="198.8" stroke="#4d4d4d" stroke-width="1.2"/>
<text transform="translate(73.7 198.8) rotate(-90)" font-size="12" text-anchor="middle" fill="#222">0</text>
<line x1="83.6" y1="117.6" x2="90.8" y2="117.6" stroke="#4d4d4d" stroke-width="1.2"/>
<text transform="translate(73.7 117.6) rotate(-90)" font-size="12" text-anchor="middle" fill="#222">5</text>
<line x1="83.6" y1="36.4" x2="90.8" y2="36.4" stroke="#4d4d4d" stroke-width="1.2"/>
<text transform="translate(73.7 36.4) rotate(-90)" font-size="12" text-anchor="middle" fill="#222">10</text>
<text x="380.5" y="443.6" font-size="12" text-anchor="middle" fill="#222">X</text>
<text transform="translate(45.8 200.3) rotate(-90)" font-size="12" text-anchor="middle" fill="#222">Y</text>
<circle cx="558.2" cy="359.3" r="6" fill="#3b8ed4"/>
<circle cx="558.2" cy="382.1" r="6" fill="#f28b32"/>
<text x="577.6" y="364.4" font-size="17" fill="#1a1a1a" stroke="#1a1a1a" stroke-width="0.3">Controls</text>
<text x="577.6" y="383.8" font-size="17" fill="#1a1a1a" stroke="#1a1a1a" stroke-width="0.3" textLength="82" lengthAdjust="spacing">T2D cases</text>
<text x="3.5" y="24.8" font-size="23.5" font-weight="bold" fill="#000">a.</text>
<text x="3.6" y="490.4" font-size="23.2" font-weight="bold" fill="#000">b.</text>
<line x1="290.3" y1="472.5" x2="537.5" y2="881.5" stroke="#f5901a" stroke-width="1.6"/>
<g fill="none" stroke-width="1.1">
<circle cx="259.6" cy="569.5" r="2.7" stroke="#5a5af6"/>
<circle cx="182.5" cy="594.6" r="2.7" stroke="#5a5af6"/>
<circle cx="200" cy="590.5" r="2.7" stroke="#5a5af6"/>
<circle cx="201.8" cy="595.5" r="2.7" stroke="#5a5af6"/>
<circle cx="129.4" cy="600.8" r="2.7" stroke="#5a5af6"/>
<circle cx="160" cy="603.4" r="2.7" stroke="#5a5af6"/>
<circle cx="117.1" cy="607.5" r="2.7" stroke="#5a5af6"/>
<circle cx="196.8" cy="610.1" r="2.7" stroke="#5a5af6"/>
<circle cx="208.2" cy="618.3" r="2.7" stroke="#5a5af6"/>
<circle cx="142.5" cy="625.9" r="2.7" stroke="#5a5af6"/>
<circle cx="288.2" cy="632.3" r="2.7" stroke="#5a5af6"/>
<circle cx="116.8" cy="641" r="2.7" stroke="#5a5af6"/>
<circle cx="113.9" cy="656" r="2.7" stroke="#5a5af6"/>
<circle cx="224.6" cy="653.9" r="2.7" stroke="#5a5af6"/>
<circle cx="138.7" cy="665.3" r="2.7" stroke="#5a5af6"/>
<circle cx="164.4" cy="664.7" r="2.7" stroke="#5a5af6"/>
<circle cx="222.2" cy="664.7" r="2.7" stroke="#5a5af6"/>
<circle cx="228.1" cy="667" r="2.7" stroke="#5a5af6"/>
<circle cx="183.7" cy="670" r="2.7" stroke="#5a5af6"/>
<circle cx="257" cy="671" r="2.7" stroke="#5a5af6"/>
<circle cx="266.6" cy="674.9" r="2.7" stroke="#5a5af6"/>
<circle cx="238.6" cy="679" r="2.7" stroke="#5a5af6"/>
<circle cx="267.2" cy="681.9" r="2.7" stroke="#5a5af6"/>
<circle cx="286.7" cy="684.8" r="2.7" stroke="#5a5af6"/>
<circle cx="286.2" cy="686.3" r="2.7" stroke="#5a5af6"/>
<circle cx="212.3" cy="691.2" r="2.7" stroke="#5a5af6"/>
<circle cx="205.9" cy="701.8" r="2.7" stroke="#5a5af6"/>
<circle cx="212.9" cy="704.4" r="2.7" stroke="#5a5af6"/>
<circle cx="215.8" cy="712" r="2.7" stroke="#5a5af6"/>
<circle cx="277.7" cy="713.4" r="2.7" stroke="#5a5af6"/>
<circle cx="247.9" cy="723.1" r="2.7" stroke="#5a5af6"/>
<circle cx="263.7" cy="721.9" r="2.7" stroke="#5a5af6"/>
<circle cx="164.4" cy="730.4" r="2.7" stroke="#5a5af6"/>
<circle cx="280" cy="730.4" r="2.7" stroke="#5a5af6"/>
<circle cx="246.2" cy="733.6" r="2.7" stroke="#5a5af6"/>
<circle cx="282.7" cy="740" r="2.7" stroke="#5a5af6"/>
<circle cx="291.1" cy="746.7" r="2.7" stroke="#5a5af6"/>
<circle cx="212.3" cy="753.7" r="2.7" stroke="#5a5af6"/>
<circle cx="235.6" cy="753.4" r="2.7" stroke="#5a5af6"/>
<circle cx="260.8" cy="749.9" r="2.7" stroke="#5a5af6"/>
<circle cx="258.7" cy="768" r="2.7" stroke="#5a5af6"/>
<circle cx="288.5" cy="769.5" r="2.7" stroke="#5a5af6"/>
<circle cx="383.4" cy="592.3" r="2.7" stroke="#5a5af6"/>
<circle cx="355.4" cy="619.4" r="2.7" stroke="#5a5af6"/>
<circle cx="314.2" cy="648.9" r="2.7" stroke="#5a5af6"/>
<circle cx="342.8" cy="644" r="2.7" stroke="#5a5af6"/>
<circle cx="328.2" cy="664.7" r="2.7" stroke="#5a5af6"/>
<circle cx="338.4" cy="668.8" r="2.7" stroke="#5a5af6"/>
<circle cx="365.3" cy="678.1" r="2.7" stroke="#5a5af6"/>
<circle cx="310.1" cy="684.2" r="2.7" stroke="#5a5af6"/>
<circle cx="371.4" cy="697.4" r="2.7" stroke="#5a5af6"/>
<circle cx="310.1" cy="707.6" r="2.7" stroke="#5a5af6"/>
<circle cx="306.3" cy="717.5" r="2.7" stroke="#5a5af6"/>
<circle cx="334.6" cy="724.2" r="2.7" stroke="#5a5af6"/>
<circle cx="346.9" cy="734.5" r="2.7" stroke="#5a5af6"/>
<circle cx="389.2" cy="726.6" r="2.7" stroke="#5a5af6"/>
<circle cx="318" cy="740" r="2.7" stroke="#5a5af6"/>
<circle cx="384" cy="748.2" r="2.7" stroke="#5a5af6"/>
<circle cx="314.2" cy="772.7" r="2.7" stroke="#5a5af6"/>
<circle cx="334.6" cy="785.3" r="2.7" stroke="#5a5af6"/>
<circle cx="363.5" cy="792.8" r="2.7" stroke="#5a5af6"/>
<circle cx="396" cy="802.2" r="2.7" stroke="#5a5af6"/>
<circle cx="425.7" cy="773" r="2.7" stroke="#5a5af6"/>
<circle cx="488.7" cy="866.7" r="2.7" stroke="#5a5af6"/>
<circle cx="368.8" cy="529.8" r="2.7" stroke="#f05555"/>
<circle cx="448.8" cy="522.2" r="2.7" stroke="#f05555"/>
<circle cx="481.8" cy="554.6" r="2.7" stroke="#f05555"/>
<circle cx="348.1" cy="584.4" r="2.7" stroke="#f05555"/>
<circle cx="435.4" cy="585.9" r="2.7" stroke="#f05555"/>
<circle cx="429.5" cy="642.2" r="2.7" stroke="#f05555"/>
<circle cx="441.2" cy="645.7" r="2.7" stroke="#f05555"/>
<circle cx="464.6" cy="650.1" r="2.7" stroke="#f05555"/>
<circle cx="437.1" cy="665.3" r="2.7" stroke="#f05555"/>
<circle cx="437.7" cy="688.3" r="2.7" stroke="#f05555"/>
<circle cx="568.1" cy="487.5" r="2.7" stroke="#f05555"/>
<circle cx="517.3" cy="508.8" r="2.7" stroke="#f05555"/>
<circle cx="514.7" cy="543.8" r="2.7" stroke="#f05555"/>
<circle cx="649.6" cy="587" r="2.7" stroke="#f05555"/>
<circle cx="555.5" cy="600.8" r="2.7" stroke="#f05555"/>
<circle cx="515.5" cy="605.7" r="2.7" stroke="#f05555"/>
<circle cx="511.7" cy="623.8" r="2.7" stroke="#f05555"/>
<circle cx="562" cy="624.7" r="2.7" stroke="#f05555"/>
<circle cx="575.7" cy="622.4" r="2.7" stroke="#f05555"/>
<circle cx="568.1" cy="637.8" r="2.7" stroke="#f05555"/>
<circle cx="630.6" cy="703.2" r="2.7" stroke="#f05555"/>
<circle cx="655.4" cy="730.4" r="2.7" stroke="#f05555"/>
<circle cx="499.8" cy="749.1" r="2.7" stroke="#f05555"/>
<circle cx="600.2" cy="823.5" r="2.7" stroke="#f05555"/>
</g>
<circle cx="229.9" cy="597.5" r="3.1" fill="#0000ff"/>
<circle cx="132.3" cy="613" r="3.1" fill="#0000ff"/>
<circle cx="223.1" cy="631.1" r="3.1" fill="#0000ff"/>
<circle cx="233.9" cy="644.6" r="3.1" fill="#0000ff"/>
<circle cx="271" cy="648.9" r="3.1" fill="#0000ff"/>
<circle cx="221.6" cy="676.1" r="3.1" fill="#0000ff"/>
<circle cx="152.1" cy="690.7" r="3.1" fill="#0000ff"/>
<circle cx="208.2" cy="702.9" r="3.1" fill="#0000ff"/>
<circle cx="287.3" cy="741.2" r="3.1" fill="#0000ff"/>
<circle cx="275.9" cy="756.4" r="3.1" fill="#0000ff"/>
<circle cx="347.5" cy="647.5" r="3.1" fill="#0000ff"/>
<circle cx="412.9" cy="649.2" r="3.1" fill="#0000ff"/>
<circle cx="359.2" cy="714.6" r="3.1" fill="#0000ff"/>
<circle cx="473.9" cy="820.6" r="3.1" fill="#0000ff"/>
<circle cx="431.6" cy="520.8" r="3.1" fill="#ff0000"/>
<circle cx="461.6" cy="585.6" r="3.1" fill="#ff0000"/>
<circle cx="342.5" cy="588.2" r="3.1" fill="#ff0000"/>
<circle cx="430.4" cy="616.2" r="3.1" fill="#ff0000"/>
<circle cx="411.4" cy="670" r="3.1" fill="#ff0000"/>
<circle cx="551.5" cy="611.6" r="3.1" fill="#ff0000"/>
<circle cx="602" cy="633.8" r="3.1" fill="#ff0000"/>
<circle cx="530.4" cy="670" r="3.1" fill="#ff0000"/>
<rect x="92.4" y="472.5" width="584.7" height="409" fill="none" stroke="#4d4d4d" stroke-width="1.2"/>
<line x1="103.8" y1="881.5" x2="103.8" y2="888.5" stroke="#4d4d4d" stroke-width="1.1"/>
<text x="103.8" y="905.5" font-size="11" text-anchor="middle" fill="#222">-3</text>
<line x1="180.1" y1="881.5" x2="180.1" y2="888.5" stroke="#4d4d4d" stroke-width="1.1"/>
<text x="180.1" y="905.5" font-size="11" text-anchor="middle" fill="#222">-2</text>
<line x1="256.5" y1="881.5" x2="256.5" y2="888.5" stroke="#4d4d4d" stroke-width="1.1"/>
<text x="256.5" y="905.5" font-size="11" text-anchor="middle" fill="#222">-1</text>
<line x1="332.8" y1="881.5" x2="332.8" y2="888.5" stroke="#4d4d4d" stroke-width="1.1"/>
<text x="332.8" y="905.5" font-size="11" text-anchor="middle" fill="#222">0</text>
<line x1="409.1" y1="881.5" x2="409.1" y2="888.5" stroke="#4d4d4d" stroke-width="1.1"/>
<text x="409.1" y="905.5" font-size="11" text-anchor="middle" fill="#222">1</text>
<line x1="485.5" y1="881.5" x2="485.5" y2="888.5" stroke="#4d4d4d" stroke-width="1.1"/>
<text x="485.5" y="905.5" font-size="11" text-anchor="middle" fill="#222">2</text>
<line x1="561.8" y1="881.5" x2="561.8" y2="888.5" stroke="#4d4d4d" stroke-width="1.1"/>
<text x="561.8" y="905.5" font-size="11" text-anchor="middle" fill="#222">3</text>
<line x1="638.1" y1="881.5" x2="638.1" y2="888.5" stroke="#4d4d4d" stroke-width="1.1"/>
<text x="638.1" y="905.5" font-size="11" text-anchor="middle" fill="#222">4</text>
<line x1="85.5" y1="856.1" x2="92.4" y2="856.1" stroke="#4d4d4d" stroke-width="1.1"/>
<text transform="translate(76.5 856.1) rotate(-90)" font-size="11" text-anchor="middle" fill="#222">-4</text>
<line x1="85.5" y1="764.2" x2="92.4" y2="764.2" stroke="#4d4d4d" stroke-width="1.1"/>
<text transform="translate(76.5 764.2) rotate(-90)" font-size="11" text-anchor="middle" fill="#222">-2</text>
<line x1="85.5" y1="672.4" x2="92.4" y2="672.4" stroke="#4d4d4d" stroke-width="1.1"/>
<text transform="translate(76.5 672.4) rotate(-90)" font-size="11" text-anchor="middle" fill="#222">0</text>
<line x1="85.5" y1="580.5" x2="92.4" y2="580.5" stroke="#4d4d4d" stroke-width="1.1"/>
<text transform="translate(76.5 580.5) rotate(-90)" font-size="11" text-anchor="middle" fill="#222">2</text>
<line x1="85.5" y1="488.6" x2="92.4" y2="488.6" stroke="#4d4d4d" stroke-width="1.1"/>
<text transform="translate(76.5 488.6) rotate(-90)" font-size="11" text-anchor="middle" fill="#222">4</text>
<text x="384.8" y="932.8" font-size="11" text-anchor="middle" fill="#222">PLS LATENT DIMENSION 1</text>
<text transform="translate(50.4 673.5) rotate(-90)" font-size="10.6" text-anchor="middle" fill="#222">PLS LATENT DIMENSION 2</text>
<rect x="104" y="480.5" width="103.3" height="39.7" fill="#fff" stroke="#4d4d4d" stroke-width="1.1"/>
<rect x="114" y="491" width="8.2" height="6.4" fill="#ff0000" stroke="#333" stroke-width="0.7"/>
<rect x="114" y="504.1" width="8.2" height="6.4" fill="#0000ff" stroke="#333" stroke-width="0.7"/>
<text x="136" y="498.9" font-size="12" fill="#222">T2D cases</text>
<text x="136" y="512.3" font-size="12" fill="#222">Controls</text>
</svg>
</body></html>
